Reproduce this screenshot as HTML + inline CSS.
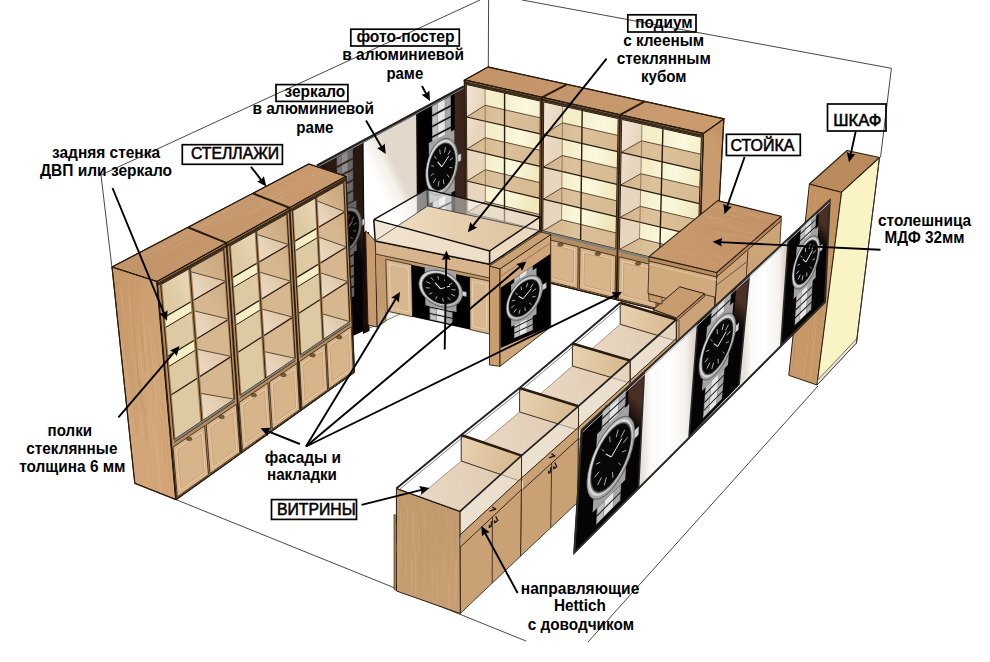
<!DOCTYPE html>
<html><head><meta charset="utf-8"><title>plan</title>
<style>
html,body{margin:0;padding:0;background:#fff;}
svg{display:block}
text{font-family:"Liberation Sans",sans-serif;fill:#000}
.b{font-weight:bold;font-size:16px}
.c{font-size:16px;stroke:#000;stroke-width:0.55px}
</style></head><body>
<svg width="990" height="662" viewBox="0 0 990 662">
<defs><linearGradient id="g0" gradientUnits="userSpaceOnUse" x1="318.0" y1="258.5" x2="362.9" y2="236.1"><stop offset="0" stop-color="#000"/><stop offset="0.72" stop-color="#080404"/><stop offset="1" stop-color="#3d261b"/></linearGradient><linearGradient id="g1" gradientUnits="userSpaceOnUse" x1="364.5" y1="235.3" x2="416.9" y2="209.1"><stop offset="0" stop-color="#f2eee8"/><stop offset="0.2" stop-color="#ffffff"/><stop offset="0.6" stop-color="#ffffff"/><stop offset="0.85" stop-color="#f4efe8"/><stop offset="1" stop-color="#e2d8cb"/></linearGradient><linearGradient id="g2" gradientUnits="userSpaceOnUse" x1="112.0" y1="267.0" x2="346.0" y2="176.3"><stop offset="0" stop-color="#c3946a"/><stop offset="1" stop-color="#c99b6f"/></linearGradient><linearGradient id="g3" gradientUnits="userSpaceOnUse" x1="112.0" y1="300.0" x2="176.0" y2="320.0"><stop offset="0" stop-color="#c79869"/><stop offset="1" stop-color="#d2a679"/></linearGradient><linearGradient id="g4" gradientUnits="userSpaceOnUse" x1="160.7" y1="284.7" x2="189.8" y2="268.4"><stop offset="0" stop-color="#ddc9a2"/><stop offset="1" stop-color="#ead9b8"/></linearGradient><linearGradient id="g5" gradientUnits="userSpaceOnUse" x1="189.8" y1="268.4" x2="223.8" y2="249.4"><stop offset="0" stop-color="#d6b78f"/><stop offset="1" stop-color="#c9a67c"/></linearGradient><linearGradient id="g6" gradientUnits="userSpaceOnUse" x1="192.4" y1="301.0" x2="226.0" y2="281.3"><stop offset="0" stop-color="#ecdcc4"/><stop offset="1" stop-color="#dcc2a2"/></linearGradient><linearGradient id="g7" gradientUnits="userSpaceOnUse" x1="195.4" y1="339.6" x2="228.7" y2="319.2"><stop offset="0" stop-color="#ecdcc4"/><stop offset="1" stop-color="#dcc2a2"/></linearGradient><linearGradient id="g8" gradientUnits="userSpaceOnUse" x1="198.4" y1="377.5" x2="231.4" y2="356.4"><stop offset="0" stop-color="#ecdcc4"/><stop offset="1" stop-color="#dcc2a2"/></linearGradient><linearGradient id="g9" gradientUnits="userSpaceOnUse" x1="201.9" y1="421.0" x2="234.4" y2="399.2"><stop offset="0" stop-color="#ecdcc4"/><stop offset="1" stop-color="#dcc2a2"/></linearGradient><linearGradient id="g10" gradientUnits="userSpaceOnUse" x1="229.7" y1="246.1" x2="256.1" y2="231.3"><stop offset="0" stop-color="#ddc9a2"/><stop offset="1" stop-color="#ead9b8"/></linearGradient><linearGradient id="g11" gradientUnits="userSpaceOnUse" x1="256.1" y1="231.3" x2="287.0" y2="213.9"><stop offset="0" stop-color="#d6b78f"/><stop offset="1" stop-color="#c9a67c"/></linearGradient><linearGradient id="g12" gradientUnits="userSpaceOnUse" x1="258.1" y1="262.6" x2="288.8" y2="244.7"><stop offset="0" stop-color="#ecdcc4"/><stop offset="1" stop-color="#dcc2a2"/></linearGradient><linearGradient id="g13" gradientUnits="userSpaceOnUse" x1="260.5" y1="299.8" x2="290.8" y2="281.2"><stop offset="0" stop-color="#ecdcc4"/><stop offset="1" stop-color="#dcc2a2"/></linearGradient><linearGradient id="g14" gradientUnits="userSpaceOnUse" x1="262.8" y1="336.3" x2="292.9" y2="317.1"><stop offset="0" stop-color="#ecdcc4"/><stop offset="1" stop-color="#dcc2a2"/></linearGradient><linearGradient id="g15" gradientUnits="userSpaceOnUse" x1="265.5" y1="378.3" x2="295.2" y2="358.3"><stop offset="0" stop-color="#ecdcc4"/><stop offset="1" stop-color="#dcc2a2"/></linearGradient><linearGradient id="g16" gradientUnits="userSpaceOnUse" x1="292.4" y1="210.9" x2="316.0" y2="197.7"><stop offset="0" stop-color="#ddc9a2"/><stop offset="1" stop-color="#ead9b8"/></linearGradient><linearGradient id="g17" gradientUnits="userSpaceOnUse" x1="316.0" y1="197.7" x2="343.8" y2="182.2"><stop offset="0" stop-color="#d6b78f"/><stop offset="1" stop-color="#c9a67c"/></linearGradient><linearGradient id="g18" gradientUnits="userSpaceOnUse" x1="317.5" y1="227.9" x2="345.0" y2="211.8"><stop offset="0" stop-color="#ecdcc4"/><stop offset="1" stop-color="#dcc2a2"/></linearGradient><linearGradient id="g19" gradientUnits="userSpaceOnUse" x1="319.3" y1="263.7" x2="346.6" y2="247.0"><stop offset="0" stop-color="#ecdcc4"/><stop offset="1" stop-color="#dcc2a2"/></linearGradient><linearGradient id="g20" gradientUnits="userSpaceOnUse" x1="321.1" y1="299.0" x2="348.1" y2="281.7"><stop offset="0" stop-color="#ecdcc4"/><stop offset="1" stop-color="#dcc2a2"/></linearGradient><linearGradient id="g21" gradientUnits="userSpaceOnUse" x1="323.1" y1="339.6" x2="349.8" y2="321.6"><stop offset="0" stop-color="#ecdcc4"/><stop offset="1" stop-color="#dcc2a2"/></linearGradient><linearGradient id="g22" gradientUnits="userSpaceOnUse" x1="488.0" y1="67.0" x2="703.4" y2="133.5"><stop offset="0" stop-color="#c3946a"/><stop offset="1" stop-color="#c99b6f"/></linearGradient><linearGradient id="g23" gradientUnits="userSpaceOnUse" x1="703.4" y1="133.5" x2="723.9" y2="118.8"><stop offset="0" stop-color="#c99b6e"/><stop offset="1" stop-color="#c08f62"/></linearGradient><linearGradient id="g24" gradientUnits="userSpaceOnUse" x1="466.3" y1="84.5" x2="485.1" y2="88.7"><stop offset="0" stop-color="#f3e7d8"/><stop offset="1" stop-color="#e8d5bd"/></linearGradient><linearGradient id="g25" gradientUnits="userSpaceOnUse" x1="485.3" y1="158.8" x2="539.8" y2="171.6"><stop offset="0" stop-color="#f4edc8"/><stop offset="0.5" stop-color="#fbf8de"/><stop offset="1" stop-color="#f0e7ba"/></linearGradient><linearGradient id="g26" gradientUnits="userSpaceOnUse" x1="466.5" y1="117.0" x2="540.1" y2="133.9"><stop offset="0" stop-color="#d2b48c"/><stop offset="0.4" stop-color="#dcc29a"/><stop offset="1" stop-color="#d6b990"/></linearGradient><linearGradient id="g27" gradientUnits="userSpaceOnUse" x1="466.7" y1="149.1" x2="539.9" y2="166.3"><stop offset="0" stop-color="#d2b48c"/><stop offset="0.4" stop-color="#dcc29a"/><stop offset="1" stop-color="#d6b990"/></linearGradient><linearGradient id="g28" gradientUnits="userSpaceOnUse" x1="466.9" y1="181.0" x2="539.7" y2="198.3"><stop offset="0" stop-color="#d2b48c"/><stop offset="0.4" stop-color="#dcc29a"/><stop offset="1" stop-color="#d6b990"/></linearGradient><linearGradient id="g29" gradientUnits="userSpaceOnUse" x1="467.0" y1="212.5" x2="539.5" y2="230.1"><stop offset="0" stop-color="#d2b48c"/><stop offset="0.4" stop-color="#dcc29a"/><stop offset="1" stop-color="#d6b990"/></linearGradient><linearGradient id="g30" gradientUnits="userSpaceOnUse" x1="543.7" y1="101.9" x2="562.6" y2="106.1"><stop offset="0" stop-color="#f3e7d8"/><stop offset="1" stop-color="#e8d5bd"/></linearGradient><linearGradient id="g31" gradientUnits="userSpaceOnUse" x1="562.0" y1="176.8" x2="616.9" y2="189.7"><stop offset="0" stop-color="#f4edc8"/><stop offset="0.5" stop-color="#fbf8de"/><stop offset="1" stop-color="#f0e7ba"/></linearGradient><linearGradient id="g32" gradientUnits="userSpaceOnUse" x1="543.5" y1="134.6" x2="617.6" y2="151.6"><stop offset="0" stop-color="#d2b48c"/><stop offset="0.4" stop-color="#dcc29a"/><stop offset="1" stop-color="#d6b990"/></linearGradient><linearGradient id="g33" gradientUnits="userSpaceOnUse" x1="543.3" y1="167.1" x2="617.0" y2="184.3"><stop offset="0" stop-color="#d2b48c"/><stop offset="0.4" stop-color="#dcc29a"/><stop offset="1" stop-color="#d6b990"/></linearGradient><linearGradient id="g34" gradientUnits="userSpaceOnUse" x1="543.1" y1="199.2" x2="616.4" y2="216.6"><stop offset="0" stop-color="#d2b48c"/><stop offset="0.4" stop-color="#dcc29a"/><stop offset="1" stop-color="#d6b990"/></linearGradient><linearGradient id="g35" gradientUnits="userSpaceOnUse" x1="542.8" y1="230.9" x2="615.8" y2="248.7"><stop offset="0" stop-color="#d2b48c"/><stop offset="0.4" stop-color="#dcc29a"/><stop offset="1" stop-color="#d6b990"/></linearGradient><linearGradient id="g36" gradientUnits="userSpaceOnUse" x1="621.7" y1="119.4" x2="642.0" y2="124.0"><stop offset="0" stop-color="#f3e7d8"/><stop offset="1" stop-color="#e8d5bd"/></linearGradient><linearGradient id="g37" gradientUnits="userSpaceOnUse" x1="640.4" y1="195.2" x2="699.2" y2="209.0"><stop offset="0" stop-color="#f4edc8"/><stop offset="0.5" stop-color="#fbf8de"/><stop offset="1" stop-color="#f0e7ba"/></linearGradient><linearGradient id="g38" gradientUnits="userSpaceOnUse" x1="621.1" y1="152.4" x2="700.4" y2="170.6"><stop offset="0" stop-color="#d2b48c"/><stop offset="0.4" stop-color="#dcc29a"/><stop offset="1" stop-color="#d6b990"/></linearGradient><linearGradient id="g39" gradientUnits="userSpaceOnUse" x1="620.5" y1="185.1" x2="699.3" y2="203.6"><stop offset="0" stop-color="#d2b48c"/><stop offset="0.4" stop-color="#dcc29a"/><stop offset="1" stop-color="#d6b990"/></linearGradient><linearGradient id="g40" gradientUnits="userSpaceOnUse" x1="619.9" y1="217.5" x2="698.3" y2="236.2"><stop offset="0" stop-color="#d2b48c"/><stop offset="0.4" stop-color="#dcc29a"/><stop offset="1" stop-color="#d6b990"/></linearGradient><linearGradient id="g41" gradientUnits="userSpaceOnUse" x1="619.3" y1="249.5" x2="697.3" y2="268.5"><stop offset="0" stop-color="#d2b48c"/><stop offset="0.4" stop-color="#dcc29a"/><stop offset="1" stop-color="#d6b990"/></linearGradient><linearGradient id="g42" gradientUnits="userSpaceOnUse" x1="649.0" y1="256.6" x2="781.2" y2="216.4"><stop offset="0" stop-color="#c79a6e"/><stop offset="1" stop-color="#c39367"/></linearGradient><linearGradient id="g43" gradientUnits="userSpaceOnUse" x1="809.4" y1="184.0" x2="817.0" y2="385.0"><stop offset="0" stop-color="#c2915f"/><stop offset="1" stop-color="#c89a6a"/></linearGradient><linearGradient id="g44" gradientUnits="userSpaceOnUse" x1="375.2" y1="240.9" x2="539.8" y2="230.7"><stop offset="0" stop-color="#efe0c8"/><stop offset="0.5" stop-color="#e6cfae"/><stop offset="1" stop-color="#dcc09a"/></linearGradient><linearGradient id="g45" gradientUnits="userSpaceOnUse" x1="572.4" y1="343.5" x2="572.4" y2="366.0"><stop offset="0" stop-color="#ffffff"/><stop offset="1" stop-color="#f1ebe0"/></linearGradient><linearGradient id="g46" gradientUnits="userSpaceOnUse" x1="572.4" y1="366.0" x2="676.3" y2="341.0"><stop offset="0" stop-color="#ecdccb"/><stop offset="1" stop-color="#dfc9ae"/></linearGradient><linearGradient id="g47" gradientUnits="userSpaceOnUse" x1="620.2" y1="302.8" x2="676.3" y2="319.5"><stop offset="0" stop-color="#e8d3b2"/><stop offset="1" stop-color="#d6b88f"/></linearGradient><linearGradient id="g48" gradientUnits="userSpaceOnUse" x1="519.6" y1="388.0" x2="519.6" y2="412.0"><stop offset="0" stop-color="#ffffff"/><stop offset="1" stop-color="#f1ebe0"/></linearGradient><linearGradient id="g49" gradientUnits="userSpaceOnUse" x1="519.6" y1="412.0" x2="630.0" y2="383.0"><stop offset="0" stop-color="#ecdccb"/><stop offset="1" stop-color="#dfc9ae"/></linearGradient><linearGradient id="g50" gradientUnits="userSpaceOnUse" x1="572.4" y1="343.5" x2="630.0" y2="360.5"><stop offset="0" stop-color="#e8d3b2"/><stop offset="1" stop-color="#d6b88f"/></linearGradient><linearGradient id="g51" gradientUnits="userSpaceOnUse" x1="461.2" y1="435.0" x2="461.2" y2="461.0"><stop offset="0" stop-color="#ffffff"/><stop offset="1" stop-color="#f1ebe0"/></linearGradient><linearGradient id="g52" gradientUnits="userSpaceOnUse" x1="461.2" y1="461.0" x2="578.5" y2="430.2"><stop offset="0" stop-color="#ecdccb"/><stop offset="1" stop-color="#dfc9ae"/></linearGradient><linearGradient id="g53" gradientUnits="userSpaceOnUse" x1="519.6" y1="388.0" x2="578.5" y2="406.2"><stop offset="0" stop-color="#e8d3b2"/><stop offset="1" stop-color="#d6b88f"/></linearGradient><linearGradient id="g54" gradientUnits="userSpaceOnUse" x1="396.4" y1="488.5" x2="396.4" y2="515.5"><stop offset="0" stop-color="#ffffff"/><stop offset="1" stop-color="#f1ebe0"/></linearGradient><linearGradient id="g55" gradientUnits="userSpaceOnUse" x1="396.4" y1="515.5" x2="521.5" y2="481.6"><stop offset="0" stop-color="#ecdccb"/><stop offset="1" stop-color="#dfc9ae"/></linearGradient><linearGradient id="g56" gradientUnits="userSpaceOnUse" x1="461.2" y1="435.0" x2="521.5" y2="455.6"><stop offset="0" stop-color="#e8d3b2"/><stop offset="1" stop-color="#d6b88f"/></linearGradient><linearGradient id="g57" gradientUnits="userSpaceOnUse" x1="396.4" y1="488.5" x2="460.3" y2="613.5"><stop offset="0" stop-color="#c39a6d"/><stop offset="1" stop-color="#c79f73"/></linearGradient><linearGradient id="g58" gradientUnits="userSpaceOnUse" x1="626.8" y1="421.0" x2="642.6" y2="406.0"><stop offset="0" stop-color="#050303"/><stop offset="1" stop-color="#4a3024"/></linearGradient><linearGradient id="g59" gradientUnits="userSpaceOnUse" x1="641.5" y1="300.0" x2="693.4" y2="300.0"><stop offset="0" stop-color="#e6e0d8"/><stop offset="0.18" stop-color="#fbfaf8"/><stop offset="0.5" stop-color="#ffffff"/><stop offset="0.85" stop-color="#f6f3ee"/><stop offset="1" stop-color="#ddd5ca"/></linearGradient><linearGradient id="g60" gradientUnits="userSpaceOnUse" x1="733.4" y1="321.1" x2="746.1" y2="308.8"><stop offset="0" stop-color="#050303"/><stop offset="1" stop-color="#4a3024"/></linearGradient><linearGradient id="g61" gradientUnits="userSpaceOnUse" x1="744.1" y1="300.0" x2="784.6" y2="300.0"><stop offset="0" stop-color="#e6e0d8"/><stop offset="0.18" stop-color="#fbfaf8"/><stop offset="0.5" stop-color="#ffffff"/><stop offset="0.85" stop-color="#f6f3ee"/><stop offset="1" stop-color="#ddd5ca"/></linearGradient><linearGradient id="g62" gradientUnits="userSpaceOnUse" x1="817.5" y1="239.7" x2="828.3" y2="229.6"><stop offset="0" stop-color="#050303"/><stop offset="1" stop-color="#4a3024"/></linearGradient><marker id="ah" viewBox="0 0 12 10" refX="11" refY="5" markerWidth="13" markerHeight="11" markerUnits="userSpaceOnUse" orient="auto"><path d="M0,0 L12,5 L0,10 L3,5 z" fill="#000"/></marker></defs>
<line x1="101.0" y1="175.0" x2="480.0" y2="0.0" stroke="#333" stroke-width="0.9" />
<line x1="101.0" y1="175.0" x2="112.0" y2="268.0" stroke="#333" stroke-width="0.9" />
<line x1="488.6" y1="0.0" x2="488.3" y2="67.0" stroke="#333" stroke-width="0.9" />
<line x1="522.0" y1="0.0" x2="891.4" y2="68.3" stroke="#333" stroke-width="0.9" />
<line x1="891.4" y1="68.3" x2="880.5" y2="157.5" stroke="#333" stroke-width="0.9" />
<line x1="176.0" y1="499.6" x2="526.0" y2="641.0" stroke="#333" stroke-width="0.9" />
<line x1="588.0" y1="642.0" x2="818.0" y2="386.0" stroke="#333" stroke-width="0.9" />
<polygon points="317.0,165.5 463.6,86.4 465.0,284.0 319.0,351.0" fill="#120b08" stroke="#2a1d10" stroke-width="1" stroke-linejoin="round" />
<polygon points="317.0,165.5 362.0,141.2 363.8,330.4 319.0,351.0" fill="url(#g0)" />
<polygon points="363.6,142.7 416.1,114.4 417.7,305.7 365.4,329.7" fill="url(#g1)" />
<polygon points="418.2,113.3 454.5,93.7 455.9,288.2 419.7,304.8" fill="#000" />
<polygon points="454.5,93.7 463.6,88.8 465.0,284.0 455.9,288.2" fill="#3b251b" />
<polygon points="431.8,105.9 450.8,95.7 450.8,105.1 431.9,115.3" fill="#8a8a8a" />
<polygon points="432.6,106.6 437.3,104.0 437.4,111.5 432.7,114.0" fill="#c2c2c2" />
<polygon points="437.9,103.2 444.7,99.5 444.7,107.5 437.9,111.2" fill="#e6e6e6" />
<polygon points="445.3,99.7 450.0,97.2 450.1,104.7 445.3,107.2" fill="#a8a8a8" />
<polygon points="431.9,116.5 450.9,106.4 450.9,115.9 432.0,125.9" fill="#8a8a8a" />
<polygon points="432.7,117.2 437.4,114.7 437.4,122.2 432.7,124.7" fill="#c2c2c2" />
<polygon points="437.9,113.9 444.8,110.2 444.8,118.2 438.0,121.9" fill="#e6e6e6" />
<polygon points="445.3,110.4 450.1,107.9 450.2,115.4 445.4,117.9" fill="#a8a8a8" />
<polygon points="432.0,127.2 450.9,117.2 451.0,126.6 432.1,136.5" fill="#8a8a8a" />
<polygon points="432.8,127.8 437.5,125.4 437.5,132.8 432.8,135.3" fill="#c2c2c2" />
<polygon points="438.0,124.5 444.8,120.9 444.9,128.9 438.1,132.5" fill="#e6e6e6" />
<polygon points="445.4,121.1 450.2,118.6 450.2,126.1 445.5,128.6" fill="#a8a8a8" />
<polygon points="432.1,137.8 451.0,127.9 451.1,137.3 432.2,147.2" fill="#8a8a8a" />
<polygon points="432.8,138.5 437.6,136.0 437.6,143.5 432.9,145.9" fill="#c2c2c2" />
<polygon points="438.1,135.2 444.9,131.6 445.0,139.6 438.2,143.2" fill="#e6e6e6" />
<polygon points="445.5,131.8 450.3,129.3 450.3,136.8 445.6,139.3" fill="#a8a8a8" />
<polygon points="432.5,190.9 451.4,181.4 451.5,190.8 432.6,200.2" fill="#8a8a8a" />
<polygon points="433.3,191.6 438.0,189.2 438.0,196.6 433.3,199.0" fill="#c2c2c2" />
<polygon points="438.5,188.4 445.3,185.0 445.4,193.0 438.6,196.4" fill="#e6e6e6" />
<polygon points="445.9,185.2 450.7,182.8 450.7,190.3 446.0,192.7" fill="#a8a8a8" />
<polygon points="432.6,201.5 451.5,192.0 451.6,201.4 432.7,210.8" fill="#8a8a8a" />
<polygon points="433.3,202.2 438.0,199.8 438.1,207.3 433.4,209.6" fill="#c2c2c2" />
<polygon points="438.6,199.0 445.4,195.6 445.5,203.6 438.7,207.0" fill="#e6e6e6" />
<polygon points="446.0,195.9 450.7,193.5 450.8,201.0 446.0,203.3" fill="#a8a8a8" />
<polygon points="432.7,212.1 451.6,202.7 451.6,212.1 432.7,221.4" fill="#8a8a8a" />
<polygon points="433.4,212.8 438.1,210.4 438.2,217.9 433.5,220.2" fill="#c2c2c2" />
<polygon points="438.7,209.6 445.5,206.3 445.6,214.2 438.8,217.6" fill="#e6e6e6" />
<polygon points="446.1,206.5 450.8,204.2 450.9,211.6 446.1,214.0" fill="#a8a8a8" />
<polygon points="432.8,222.7 451.6,213.4 451.7,222.8 432.8,232.0" fill="#8a8a8a" />
<polygon points="433.5,223.4 438.2,221.0 438.3,228.5 433.6,230.8" fill="#c2c2c2" />
<polygon points="438.8,220.2 445.6,216.9 445.6,224.9 438.8,228.2" fill="#e6e6e6" />
<polygon points="446.1,217.2 450.9,214.8 451.0,222.3 446.2,224.6" fill="#a8a8a8" />
<polygon points="428.8,143.0 454.4,129.7 454.8,190.7 429.3,203.5" fill="#a2a2a2" />
<polygon points="458.3,158.4 458.0,163.8 457.1,169.4 455.6,174.9 453.5,180.1 451.1,184.7 448.2,188.7 445.2,191.8 442.0,193.9 438.8,195.0 435.7,195.0 432.9,193.9 430.4,191.7 428.4,188.7 426.8,184.8 425.9,180.2 425.5,175.1 425.8,169.7 426.7,164.2 428.1,158.7 430.1,153.6 432.5,148.9 435.3,145.0 438.4,141.8 441.6,139.6 444.8,138.5 447.9,138.4 450.7,139.5 453.3,141.6 455.3,144.6 456.9,148.6 457.9,153.2" fill="#a4a4a4" stroke="#333" stroke-width="0.6" stroke-linejoin="round" />
<polygon points="456.7,158.5 456.4,163.6 455.6,168.8 454.2,173.9 452.3,178.7 450.0,183.0 447.4,186.7 444.5,189.5 441.6,191.5 438.6,192.5 435.7,192.5 433.1,191.5 430.8,189.5 428.9,186.7 427.5,183.1 426.6,178.8 426.2,174.1 426.5,169.0 427.3,163.9 428.7,158.8 430.5,154.0 432.8,149.7 435.4,146.0 438.2,143.1 441.2,141.1 444.1,140.0 447.0,140.0 449.7,140.9 452.0,142.9 454.0,145.7 455.4,149.4 456.3,153.7" fill="#d6d6d6" />
<polygon points="455.9,159.5 455.7,164.3 454.9,169.1 453.6,173.8 451.9,178.2 449.8,182.2 447.3,185.6 444.7,188.3 442.0,190.1 439.2,191.0 436.6,191.0 434.1,190.1 432.0,188.3 430.2,185.6 428.9,182.3 428.1,178.3 427.8,173.9 428.0,169.3 428.8,164.5 430.0,159.8 431.7,155.4 433.8,151.4 436.2,148.0 438.9,145.3 441.6,143.5 444.3,142.5 447.0,142.4 449.5,143.3 451.6,145.1 453.4,147.7 454.8,151.1 455.6,155.1" fill="#5c5c5c" />
<polygon points="455.3,159.9 455.0,164.4 454.3,169.0 453.1,173.5 451.4,177.7 449.4,181.5 447.1,184.7 444.6,187.3 441.9,189.0 439.3,189.9 436.8,189.9 434.5,189.0 432.4,187.3 430.8,184.8 429.5,181.6 428.7,177.8 428.4,173.6 428.6,169.2 429.4,164.6 430.6,160.2 432.2,156.0 434.2,152.1 436.5,148.9 439.0,146.3 441.6,144.5 444.2,143.6 446.8,143.6 449.1,144.4 451.2,146.1 452.9,148.6 454.2,151.9 455.0,155.7" fill="#080808" />
<line x1="452.5" y1="167.8" x2="449.5" y2="167.5" stroke="#cfcfcf" stroke-width="0.8" />
<line x1="449.2" y1="177.4" x2="447.1" y2="174.5" stroke="#cfcfcf" stroke-width="0.8" />
<line x1="443.9" y1="184.2" x2="443.3" y2="179.4" stroke="#cfcfcf" stroke-width="0.8" />
<line x1="438.0" y1="186.3" x2="439.1" y2="180.9" stroke="#cfcfcf" stroke-width="0.8" />
<line x1="433.2" y1="183.2" x2="435.6" y2="178.7" stroke="#cfcfcf" stroke-width="0.8" />
<line x1="430.7" y1="175.7" x2="433.8" y2="173.2" stroke="#cfcfcf" stroke-width="0.8" />
<line x1="431.2" y1="165.8" x2="434.1" y2="166.1" stroke="#cfcfcf" stroke-width="0.8" />
<line x1="434.4" y1="156.2" x2="436.4" y2="159.1" stroke="#cfcfcf" stroke-width="0.8" />
<line x1="439.7" y1="149.4" x2="440.3" y2="154.2" stroke="#cfcfcf" stroke-width="0.8" />
<line x1="445.5" y1="147.2" x2="444.5" y2="152.6" stroke="#cfcfcf" stroke-width="0.8" />
<line x1="450.4" y1="150.3" x2="448.0" y2="154.8" stroke="#cfcfcf" stroke-width="0.8" />
<line x1="452.9" y1="157.8" x2="449.8" y2="160.3" stroke="#cfcfcf" stroke-width="0.8" />
<line x1="441.8" y1="166.8" x2="448.7" y2="156.1" stroke="#e6e6e6" stroke-width="1" />
<line x1="441.8" y1="166.8" x2="437.7" y2="161.8" stroke="#e6e6e6" stroke-width="1.1" />
<polygon points="457.7,155.1 461.1,153.4 461.1,160.5 457.8,162.2" fill="#d2d2d2" stroke="#444" stroke-width="0.4" stroke-linejoin="round" />
<polygon points="336.6,157.2 352.9,148.4 353.0,157.8 336.7,166.5" fill="#8a8a8a" />
<polygon points="337.3,157.9 341.3,155.7 341.4,163.2 337.3,165.3" fill="#c2c2c2" />
<polygon points="341.8,154.9 347.6,151.8 347.7,159.8 341.9,162.9" fill="#e6e6e6" />
<polygon points="348.1,152.1 352.2,149.9 352.3,157.3 348.2,159.5" fill="#a8a8a8" />
<polygon points="336.7,167.8 353.0,159.1 353.1,168.5 336.8,177.1" fill="#8a8a8a" />
<polygon points="337.4,168.5 341.4,166.4 341.5,173.8 337.4,175.9" fill="#c2c2c2" />
<polygon points="341.9,165.6 347.7,162.4 347.8,170.4 342.0,173.5" fill="#e6e6e6" />
<polygon points="348.2,162.7 352.3,160.5 352.4,168.0 348.3,170.2" fill="#a8a8a8" />
<polygon points="336.8,178.4 353.1,169.8 353.2,179.2 336.9,187.7" fill="#8a8a8a" />
<polygon points="337.5,179.1 341.5,177.0 341.6,184.4 337.5,186.5" fill="#c2c2c2" />
<polygon points="342.0,176.2 347.9,173.1 347.9,181.1 342.1,184.2" fill="#e6e6e6" />
<polygon points="348.3,173.4 352.4,171.2 352.5,178.7 348.4,180.8" fill="#a8a8a8" />
<polygon points="336.9,189.0 353.2,180.5 353.3,189.9 337.0,198.3" fill="#8a8a8a" />
<polygon points="337.6,189.7 341.6,187.6 341.7,195.0 337.7,197.1" fill="#c2c2c2" />
<polygon points="342.1,186.8 348.0,183.8 348.0,191.7 342.2,194.8" fill="#e6e6e6" />
<polygon points="348.5,184.0 352.5,181.9 352.6,189.4 348.5,191.5" fill="#a8a8a8" />
<polygon points="337.0,199.6 353.3,191.1 353.4,200.5 337.1,208.9" fill="#8a8a8a" />
<polygon points="337.7,200.3 341.7,198.2 341.8,205.6 337.8,207.7" fill="#c2c2c2" />
<polygon points="342.2,197.4 348.1,194.4 348.1,202.4 342.3,205.4" fill="#e6e6e6" />
<polygon points="348.6,194.7 352.6,192.6 352.7,200.0 348.6,202.1" fill="#a8a8a8" />
<polygon points="337.1,210.2 353.4,201.8 353.5,211.2 337.2,219.5" fill="#8a8a8a" />
<polygon points="337.8,210.9 341.8,208.8 341.9,216.3 337.9,218.3" fill="#c2c2c2" />
<polygon points="342.3,208.0 348.2,205.0 348.3,213.0 342.4,216.0" fill="#e6e6e6" />
<polygon points="348.7,205.3 352.7,203.2 352.8,210.7 348.7,212.8" fill="#a8a8a8" />
<polygon points="337.6,252.5 353.8,244.4 353.9,253.8 337.7,261.8" fill="#8a8a8a" />
<polygon points="338.2,253.2 342.3,251.2 342.3,258.6 338.3,260.6" fill="#c2c2c2" />
<polygon points="342.8,250.4 348.6,247.5 348.7,255.5 342.8,258.4" fill="#e6e6e6" />
<polygon points="349.1,247.8 353.2,245.8 353.2,253.2 349.2,255.2" fill="#a8a8a8" />
<polygon points="337.7,263.0 353.9,255.0 354.0,264.4 337.8,272.3" fill="#8a8a8a" />
<polygon points="338.3,263.8 342.4,261.8 342.5,269.2 338.4,271.2" fill="#c2c2c2" />
<polygon points="342.9,261.0 348.7,258.1 348.8,266.1 342.9,269.0" fill="#e6e6e6" />
<polygon points="349.2,258.4 353.3,256.4 353.3,263.9 349.3,265.9" fill="#a8a8a8" />
<polygon points="337.8,273.6 354.0,265.7 354.1,275.0 337.9,282.9" fill="#8a8a8a" />
<polygon points="338.5,274.3 342.5,272.4 342.6,279.8 338.5,281.7" fill="#c2c2c2" />
<polygon points="343.0,271.6 348.8,268.7 348.9,276.7 343.0,279.5" fill="#e6e6e6" />
<polygon points="349.3,269.0 353.4,267.0 353.4,274.5 349.4,276.5" fill="#a8a8a8" />
<polygon points="337.9,284.1 354.1,276.3 354.2,285.6 338.0,293.4" fill="#8a8a8a" />
<polygon points="338.6,284.9 342.6,282.9 342.7,290.3 338.6,292.3" fill="#c2c2c2" />
<polygon points="343.1,282.2 348.9,279.3 349.0,287.3 343.2,290.1" fill="#e6e6e6" />
<polygon points="349.4,279.6 353.5,277.7 353.6,285.1 349.5,287.1" fill="#a8a8a8" />
<polygon points="338.0,294.7 354.2,286.9 354.3,296.2 338.1,304.0" fill="#8a8a8a" />
<polygon points="338.7,295.4 342.7,293.5 342.8,300.9 338.7,302.8" fill="#c2c2c2" />
<polygon points="343.2,292.7 349.0,289.9 349.1,297.9 343.3,300.7" fill="#e6e6e6" />
<polygon points="349.5,290.2 353.6,288.3 353.7,295.7 349.6,297.6" fill="#a8a8a8" />
<polygon points="334.3,211.6 356.3,200.3 356.7,250.5 334.8,261.3" fill="#a2a2a2" />
<polygon points="361.8,222.7 361.6,227.2 360.7,231.9 359.2,236.5 357.2,241.0 354.7,245.0 351.9,248.4 348.9,251.2 345.7,253.2 342.5,254.4 339.5,254.6 336.7,253.9 334.2,252.4 332.2,250.0 330.7,247.0 329.7,243.3 329.4,239.1 329.6,234.6 330.5,230.0 331.9,225.4 333.9,221.0 336.3,217.0 339.1,213.6 342.1,210.7 345.3,208.7 348.4,207.5 351.5,207.2 354.4,207.8 356.9,209.3 358.9,211.6 360.5,214.7 361.5,218.5" fill="#a4a4a4" stroke="#333" stroke-width="0.6" stroke-linejoin="round" />
<polygon points="360.3,222.9 360.0,227.1 359.2,231.5 357.8,235.8 355.9,239.9 353.7,243.6 351.1,246.9 348.2,249.5 345.3,251.3 342.3,252.4 339.5,252.6 336.9,252.0 334.6,250.5 332.7,248.4 331.3,245.5 330.4,242.1 330.1,238.2 330.3,234.0 331.1,229.7 332.5,225.5 334.3,221.4 336.5,217.7 339.1,214.4 341.9,211.8 344.9,209.9 347.8,208.8 350.7,208.5 353.3,209.1 355.7,210.5 357.6,212.7 359.0,215.5 359.9,219.0" fill="#d6d6d6" />
<polygon points="359.5,223.9 359.3,227.8 358.5,231.8 357.3,235.8 355.5,239.6 353.4,243.0 351.0,246.0 348.4,248.4 345.7,250.1 343.0,251.1 340.3,251.3 337.9,250.7 335.8,249.4 334.0,247.4 332.7,244.7 331.9,241.5 331.6,238.0 331.8,234.1 332.6,230.1 333.8,226.2 335.5,222.4 337.6,219.0 340.0,216.0 342.6,213.6 345.3,211.8 348.0,210.8 350.7,210.5 353.1,211.0 355.3,212.3 357.1,214.4 358.4,217.0 359.2,220.2" fill="#5c5c5c" />
<polygon points="358.9,224.2 358.7,227.9 357.9,231.7 356.7,235.5 355.1,239.2 353.1,242.4 350.8,245.3 348.3,247.6 345.7,249.2 343.1,250.2 340.6,250.4 338.3,249.8 336.2,248.6 334.6,246.6 333.3,244.1 332.5,241.1 332.3,237.6 332.5,234.0 333.2,230.2 334.4,226.4 336.0,222.8 338.0,219.5 340.2,216.7 342.7,214.4 345.3,212.7 347.9,211.7 350.4,211.5 352.8,212.0 354.8,213.2 356.5,215.1 357.8,217.7 358.6,220.7" fill="#080808" />
<line x1="356.1" y1="230.9" x2="353.2" y2="230.9" stroke="#cfcfcf" stroke-width="0.8" />
<line x1="352.8" y1="239.1" x2="350.8" y2="236.9" stroke="#cfcfcf" stroke-width="0.8" />
<line x1="347.6" y1="245.1" x2="347.0" y2="241.2" stroke="#cfcfcf" stroke-width="0.8" />
<line x1="341.8" y1="247.3" x2="342.8" y2="242.8" stroke="#cfcfcf" stroke-width="0.8" />
<line x1="337.0" y1="245.1" x2="339.4" y2="241.2" stroke="#cfcfcf" stroke-width="0.8" />
<line x1="334.5" y1="239.1" x2="337.5" y2="236.9" stroke="#cfcfcf" stroke-width="0.8" />
<line x1="335.0" y1="231.0" x2="337.8" y2="231.0" stroke="#cfcfcf" stroke-width="0.8" />
<line x1="338.2" y1="222.8" x2="340.2" y2="225.1" stroke="#cfcfcf" stroke-width="0.8" />
<line x1="343.4" y1="216.8" x2="344.0" y2="220.7" stroke="#cfcfcf" stroke-width="0.8" />
<line x1="349.2" y1="214.5" x2="348.2" y2="219.1" stroke="#cfcfcf" stroke-width="0.8" />
<line x1="354.0" y1="216.7" x2="351.7" y2="220.6" stroke="#cfcfcf" stroke-width="0.8" />
<line x1="356.5" y1="222.7" x2="353.5" y2="225.0" stroke="#cfcfcf" stroke-width="0.8" />
<line x1="345.5" y1="231.0" x2="352.4" y2="221.6" stroke="#e6e6e6" stroke-width="1" />
<line x1="345.5" y1="231.0" x2="341.4" y2="227.2" stroke="#e6e6e6" stroke-width="1.1" />
<polygon points="361.3,220.0 364.6,218.4 364.7,224.2 361.4,225.9" fill="#d2d2d2" stroke="#444" stroke-width="0.4" stroke-linejoin="round" />
<polygon points="317.0,167.7 362.0,143.5 363.8,330.4 319.0,351.0" fill="#0a0504" opacity="0.4"/>
<line x1="317.0" y1="165.5" x2="463.6" y2="86.4" stroke="#222" stroke-width="2.2" />
<line x1="317.0" y1="167.3" x2="463.6" y2="88.2" stroke="#aaa" stroke-width="0.8" />
<polygon points="112.0,267.0 308.8,164.0 346.0,176.3 157.0,281.5" fill="url(#g2)" stroke="#2a1d10" stroke-width="1" stroke-linejoin="round" />
<polygon points="112.0,267.0 157.0,281.5 176.0,499.6 134.8,483.3" fill="url(#g3)" stroke="#2a1d10" stroke-width="1" stroke-linejoin="round" />
<polyline points="128.9,296.6 132.9,336.2 136.7,374.6" fill="none" stroke="#e2bf96" stroke-width="0.7" opacity="0.35"/>
<polyline points="141.6,334.4 143.7,353.3 145.2,371.8" fill="none" stroke="#b4875a" stroke-width="0.7" opacity="0.35"/>
<polyline points="121.0,337.6 123.0,356.7 125.0,375.3" fill="none" stroke="#e2bf96" stroke-width="0.7" opacity="0.35"/>
<polyline points="143.7,403.7 145.7,423.6 147.5,443.0" fill="none" stroke="#b4875a" stroke-width="0.7" opacity="0.35"/>
<polyline points="154.1,424.9 157.4,458.4 160.3,490.8" fill="none" stroke="#e2bf96" stroke-width="0.7" opacity="0.35"/>
<polyline points="156.6,289.0 160.9,336.6 164.8,382.3" fill="none" stroke="#b4875a" stroke-width="0.7" opacity="0.35"/>
<polyline points="120.4,288.5 123.7,316.8 126.1,344.0" fill="none" stroke="#e2bf96" stroke-width="0.7" opacity="0.35"/>
<polyline points="129.5,362.8 133.5,399.8 137.0,435.6" fill="none" stroke="#b4875a" stroke-width="0.7" opacity="0.35"/>
<polyline points="137.5,285.3 139.5,305.1 141.2,324.5" fill="none" stroke="#e2bf96" stroke-width="0.7" opacity="0.35"/>
<polyline points="148.9,346.4 151.8,373.7 153.9,400.2" fill="none" stroke="#b4875a" stroke-width="0.7" opacity="0.35"/>
<polyline points="137.0,322.6 141.6,366.4 145.3,408.3" fill="none" stroke="#e2bf96" stroke-width="0.7" opacity="0.35"/>
<polyline points="132.2,362.6 136.0,396.2 138.8,428.5" fill="none" stroke="#b4875a" stroke-width="0.7" opacity="0.35"/>
<polyline points="149.0,324.8 153.7,374.9 158.1,422.7" fill="none" stroke="#e2bf96" stroke-width="0.7" opacity="0.35"/>
<polyline points="142.4,393.2 144.7,414.1 146.4,434.5" fill="none" stroke="#b4875a" stroke-width="0.7" opacity="0.35"/>
<polyline points="124.9,373.9 129.4,414.5 133.2,453.4" fill="none" stroke="#e2bf96" stroke-width="0.7" opacity="0.35"/>
<polyline points="155.9,331.2 159.9,371.8 163.0,410.7" fill="none" stroke="#b4875a" stroke-width="0.7" opacity="0.35"/>
<polyline points="144.9,349.4 149.6,393.8 153.2,436.2" fill="none" stroke="#e2bf96" stroke-width="0.7" opacity="0.35"/>
<polyline points="143.4,379.9 145.6,398.3 146.9,416.1" fill="none" stroke="#b4875a" stroke-width="0.7" opacity="0.35"/>
<polyline points="155.5,431.8 158.6,463.3 161.3,493.8" fill="none" stroke="#e2bf96" stroke-width="0.7" opacity="0.35"/>
<polyline points="139.7,379.3 141.6,396.3 143.0,412.9" fill="none" stroke="#b4875a" stroke-width="0.7" opacity="0.35"/>
<polyline points="121.4,288.8 123.8,308.4 125.4,327.4" fill="none" stroke="#e2bf96" stroke-width="0.7" opacity="0.35"/>
<polyline points="121.9,309.4 125.5,339.9 128.1,369.4" fill="none" stroke="#b4875a" stroke-width="0.7" opacity="0.35"/>
<polyline points="123.1,340.7 127.2,375.6 130.2,409.1" fill="none" stroke="#e2bf96" stroke-width="0.7" opacity="0.35"/>
<polyline points="161.1,415.5 163.6,440.2 165.5,464.2" fill="none" stroke="#b4875a" stroke-width="0.7" opacity="0.35"/>
<polyline points="141.7,411.2 145.7,450.9 149.4,489.1" fill="none" stroke="#e2bf96" stroke-width="0.7" opacity="0.35"/>
<polyline points="123.7,307.6 126.5,332.8 128.8,357.3" fill="none" stroke="#b4875a" stroke-width="0.7" opacity="0.35"/>
<polyline points="142.4,318.7 144.3,336.1 145.7,353.0" fill="none" stroke="#e2bf96" stroke-width="0.7" opacity="0.35"/>
<polyline points="137.4,363.3 142.4,410.6 146.6,455.7" fill="none" stroke="#b4875a" stroke-width="0.7" opacity="0.35"/>
<polyline points="144.5,373.5 148.2,411.6 151.7,448.4" fill="none" stroke="#e2bf96" stroke-width="0.7" opacity="0.35"/>
<polyline points="163.5,404.2 167.7,447.9 171.1,489.7" fill="none" stroke="#b4875a" stroke-width="0.7" opacity="0.35"/>
<polyline points="135.9,337.5 138.2,357.9 139.8,377.7" fill="none" stroke="#e2bf96" stroke-width="0.7" opacity="0.35"/>
<polyline points="115.9,279.1 118.6,303.9 121.0,328.1" fill="none" stroke="#b4875a" stroke-width="0.7" opacity="0.35"/>
<polyline points="128.0,280.6 129.8,298.3 131.5,315.6" fill="none" stroke="#e2bf96" stroke-width="0.7" opacity="0.35"/>
<polyline points="122.6,327.5 124.9,345.4 126.3,362.7" fill="none" stroke="#b4875a" stroke-width="0.7" opacity="0.35"/>
<polyline points="141.8,300.5 144.4,326.7 146.7,352.2" fill="none" stroke="#e2bf96" stroke-width="0.7" opacity="0.35"/>
<polyline points="130.2,292.6 135.4,339.3 139.3,383.9" fill="none" stroke="#b4875a" stroke-width="0.7" opacity="0.35"/>
<polyline points="140.4,352.0 142.3,371.4 144.1,390.6" fill="none" stroke="#e2bf96" stroke-width="0.7" opacity="0.35"/>
<polyline points="131.6,315.3 136.1,360.3 140.3,403.6" fill="none" stroke="#b4875a" stroke-width="0.7" opacity="0.35"/>
<polyline points="128.6,415.8 132.0,447.7 135.2,478.6" fill="none" stroke="#e2bf96" stroke-width="0.7" opacity="0.35"/>
<polyline points="136.7,279.3 140.7,315.7 143.5,350.6" fill="none" stroke="#b4875a" stroke-width="0.7" opacity="0.35"/>
<polyline points="252.1,223.7 273.4,212.0 293.6,200.7" fill="none" stroke="#e2bf96" stroke-width="0.7" opacity="0.25"/>
<polyline points="233.9,209.0 263.0,193.9 289.9,179.3" fill="none" stroke="#b4875a" stroke-width="0.7" opacity="0.25"/>
<polyline points="162.1,253.0 204.1,231.0 242.2,210.2" fill="none" stroke="#e2bf96" stroke-width="0.7" opacity="0.25"/>
<polyline points="266.0,215.6 301.5,196.3 334.1,178.0" fill="none" stroke="#b4875a" stroke-width="0.7" opacity="0.25"/>
<polyline points="201.2,228.4 226.7,214.8 251.1,201.9" fill="none" stroke="#e2bf96" stroke-width="0.7" opacity="0.25"/>
<polyline points="157.6,244.2 182.3,231.5 205.3,219.2" fill="none" stroke="#b4875a" stroke-width="0.7" opacity="0.25"/>
<polyline points="221.9,243.8 264.1,220.8 302.2,199.2" fill="none" stroke="#e2bf96" stroke-width="0.7" opacity="0.25"/>
<polyline points="210.1,250.3 232.0,238.2 252.8,226.6" fill="none" stroke="#b4875a" stroke-width="0.7" opacity="0.25"/>
<polyline points="153.4,252.6 190.0,233.6 223.5,215.5" fill="none" stroke="#e2bf96" stroke-width="0.7" opacity="0.25"/>
<polyline points="221.6,239.7 255.5,221.3 286.7,203.8" fill="none" stroke="#b4875a" stroke-width="0.7" opacity="0.25"/>
<polyline points="215.4,215.9 255.9,194.9 292.8,175.1" fill="none" stroke="#e2bf96" stroke-width="0.7" opacity="0.25"/>
<polyline points="217.6,238.5 238.0,227.7 257.0,216.9" fill="none" stroke="#b4875a" stroke-width="0.7" opacity="0.25"/>
<polyline points="244.4,209.1 284.4,187.9 321.2,168.1" fill="none" stroke="#e2bf96" stroke-width="0.7" opacity="0.25"/>
<polyline points="266.0,199.9 295.8,184.0 323.7,168.9" fill="none" stroke="#b4875a" stroke-width="0.7" opacity="0.25"/>
<polyline points="142.0,256.0 188.0,232.1 229.7,209.8" fill="none" stroke="#e2bf96" stroke-width="0.7" opacity="0.25"/>
<polyline points="240.3,204.9 278.9,184.7 314.2,165.8" fill="none" stroke="#b4875a" stroke-width="0.7" opacity="0.25"/>
<polyline points="210.8,227.7 229.5,217.7 247.5,208.1" fill="none" stroke="#e2bf96" stroke-width="0.7" opacity="0.25"/>
<polyline points="250.3,228.5 279.3,212.8 305.9,197.6" fill="none" stroke="#b4875a" stroke-width="0.7" opacity="0.25"/>
<polyline points="257.7,205.5 292.5,186.8 325.0,169.3" fill="none" stroke="#e2bf96" stroke-width="0.7" opacity="0.25"/>
<polyline points="169.4,246.2 193.1,233.8 215.3,221.8" fill="none" stroke="#b4875a" stroke-width="0.7" opacity="0.25"/>
<polyline points="188.4,236.4 208.2,226.2 226.5,216.1" fill="none" stroke="#e2bf96" stroke-width="0.7" opacity="0.25"/>
<polyline points="198.0,234.6 230.9,217.4 261.0,201.0" fill="none" stroke="#b4875a" stroke-width="0.7" opacity="0.25"/>
<polyline points="263.1,202.1 290.0,187.9 315.2,174.2" fill="none" stroke="#e2bf96" stroke-width="0.7" opacity="0.25"/>
<polyline points="138.6,273.0 170.2,256.0 200.0,239.8" fill="none" stroke="#b4875a" stroke-width="0.7" opacity="0.25"/>
<polyline points="230.9,204.9 250.1,195.1 268.1,185.4" fill="none" stroke="#e2bf96" stroke-width="0.7" opacity="0.25"/>
<polyline points="227.5,232.2 251.6,219.2 274.2,206.6" fill="none" stroke="#b4875a" stroke-width="0.7" opacity="0.25"/>
<polyline points="251.2,213.2 268.2,204.2 284.2,195.3" fill="none" stroke="#e2bf96" stroke-width="0.7" opacity="0.25"/>
<polyline points="166.8,247.5 206.9,226.3 243.8,206.5" fill="none" stroke="#b4875a" stroke-width="0.7" opacity="0.25"/>
<polyline points="248.2,215.1 287.0,194.3 322.6,174.8" fill="none" stroke="#e2bf96" stroke-width="0.7" opacity="0.25"/>
<polyline points="215.7,234.5 245.7,218.5 273.4,203.2" fill="none" stroke="#b4875a" stroke-width="0.7" opacity="0.25"/>
<polygon points="157.0,281.5 346.0,176.3 354.4,372.2 176.0,499.6" fill="#b58c60" stroke="#2a1d10" stroke-width="1" stroke-linejoin="round" />
<polygon points="160.7,284.7 189.8,268.4 201.9,421.0 174.1,439.7" fill="url(#g4)" />
<polygon points="189.8,268.4 223.8,249.4 234.4,399.2 201.9,421.0" fill="url(#g5)" />
<polygon points="192.4,301.0 226.0,281.3 190.0,271.5" fill="url(#g6)" />
<line x1="190.0" y1="271.5" x2="226.0" y2="281.3" stroke="#3d2c1a" stroke-width="0.8" />
<polygon points="163.6,317.8 192.4,301.0 193.2,311.1 164.5,328.1" fill="#f6efc6" />
<line x1="164.5" y1="328.1" x2="193.2" y2="311.1" stroke="#2a1d10" stroke-width="1.0" />
<polygon points="195.4,339.6 228.7,319.2 193.1,310.6" fill="url(#g7)" />
<line x1="193.1" y1="310.6" x2="228.7" y2="319.2" stroke="#3d2c1a" stroke-width="0.8" />
<polygon points="166.9,357.0 195.4,339.6 196.2,349.6 167.8,367.1" fill="#f6efc6" />
<line x1="167.8" y1="367.1" x2="196.2" y2="349.6" stroke="#2a1d10" stroke-width="1.0" />
<polygon points="198.4,377.5 231.4,356.4 196.2,349.1" fill="url(#g8)" />
<line x1="196.2" y1="349.1" x2="231.4" y2="356.4" stroke="#3d2c1a" stroke-width="0.8" />
<polygon points="201.9,421.0 234.4,399.2 199.7,393.2" fill="url(#g9)" />
<line x1="199.7" y1="393.2" x2="234.4" y2="399.2" stroke="#3d2c1a" stroke-width="0.8" />
<line x1="163.6" y1="317.8" x2="226.0" y2="281.3" stroke="#2a1d10" stroke-width="1.3" />
<line x1="166.9" y1="357.0" x2="228.7" y2="319.2" stroke="#2a1d10" stroke-width="1.3" />
<line x1="170.3" y1="395.5" x2="231.4" y2="356.4" stroke="#2a1d10" stroke-width="1.3" />
<polygon points="160.7,284.7 162.2,283.9 175.5,438.8 174.1,439.7" fill="#a07b52" />
<polygon points="188.1,269.4 191.4,267.5 203.5,420.0 200.3,422.1" fill="#a07b52" />
<polygon points="222.4,250.1 223.8,249.4 234.4,399.2 233.2,400.0" fill="#a07b52" />
<line x1="189.8" y1="268.4" x2="201.9" y2="421.0" stroke="#2a1d10" stroke-width="0.9" />
<polyline points="160.7,284.7 223.8,249.4 234.4,399.2 174.1,439.7 160.7,284.7" fill="none" stroke="#2a1d10" stroke-width="1" />
<line x1="157.3" y1="284.5" x2="226.6" y2="245.8" stroke="#3a2a1a" stroke-width="2.6" />
<polygon points="174.1,439.7 234.4,399.2 234.6,401.6 174.3,442.3" fill="#80807a" />
<line x1="174.3" y1="442.3" x2="234.6" y2="401.6" stroke="#2a1d10" stroke-width="0.7" />
<polygon points="173.0,447.2 204.6,425.8 208.5,474.7 177.3,496.9" fill="#d8b48a" stroke="#2a1d10" stroke-width="0.8" stroke-linejoin="round" />
<polyline points="176.6,449.5 201.9,432.4 205.1,472.5 180.1,490.2 176.6,449.5" fill="none" stroke="#e9d6b8" stroke-width="0.9" />
<polyline points="177.5,450.1 201.2,434.0 204.2,472.0 180.8,488.5 177.5,450.1" fill="none" stroke="#b98d62" stroke-width="0.5" />
<ellipse cx="189.2" cy="438.9" rx="2.8" ry="1.7" fill="#7d5d3b" stroke="#2a1d10" stroke-width="0.5"/>
<polygon points="206.2,424.8 236.4,404.3 239.8,452.4 210.0,473.6" fill="#d8b48a" stroke="#2a1d10" stroke-width="0.8" stroke-linejoin="round" />
<polyline points="209.6,427.1 233.7,410.7 236.5,450.2 212.7,467.1 209.6,427.1" fill="none" stroke="#e9d6b8" stroke-width="0.9" />
<polyline points="210.5,427.7 233.1,412.3 235.7,449.6 213.4,465.5 210.5,427.7" fill="none" stroke="#b98d62" stroke-width="0.5" />
<ellipse cx="221.6" cy="416.9" rx="2.8" ry="1.7" fill="#7d5d3b" stroke="#2a1d10" stroke-width="0.5"/>
<line x1="157.0" y1="281.5" x2="176.0" y2="499.6" stroke="#2a1d10" stroke-width="1.8" />
<polygon points="229.7,246.1 256.1,231.3 265.5,378.3 240.1,395.3" fill="url(#g10)" />
<polygon points="256.1,231.3 287.0,213.9 295.2,358.3 265.5,378.3" fill="url(#g11)" />
<polygon points="258.1,262.6 288.8,244.7 256.3,234.2" fill="url(#g12)" />
<line x1="256.3" y1="234.2" x2="288.8" y2="244.7" stroke="#3d2c1a" stroke-width="0.8" />
<polygon points="231.9,277.9 258.1,262.6 258.7,272.4 232.6,287.8" fill="#f6efc6" />
<line x1="232.6" y1="287.8" x2="258.7" y2="272.4" stroke="#2a1d10" stroke-width="1.0" />
<polygon points="260.5,299.8 290.8,281.2 258.7,271.9" fill="url(#g13)" />
<line x1="258.7" y1="271.9" x2="290.8" y2="281.2" stroke="#3d2c1a" stroke-width="0.8" />
<polygon points="234.6,315.6 260.5,299.8 261.1,309.4 235.3,325.4" fill="#f6efc6" />
<line x1="235.3" y1="325.4" x2="261.1" y2="309.4" stroke="#2a1d10" stroke-width="1.0" />
<polygon points="262.8,336.3 292.9,317.1 261.1,308.9" fill="url(#g14)" />
<line x1="261.1" y1="308.9" x2="292.9" y2="317.1" stroke="#3d2c1a" stroke-width="0.8" />
<polygon points="265.5,378.3 295.2,358.3 263.8,351.5" fill="url(#g15)" />
<line x1="263.8" y1="351.5" x2="295.2" y2="358.3" stroke="#3d2c1a" stroke-width="0.8" />
<line x1="231.9" y1="277.9" x2="288.8" y2="244.7" stroke="#2a1d10" stroke-width="1.3" />
<line x1="234.6" y1="315.6" x2="290.8" y2="281.2" stroke="#2a1d10" stroke-width="1.3" />
<line x1="237.2" y1="352.7" x2="292.9" y2="317.1" stroke="#2a1d10" stroke-width="1.3" />
<polygon points="229.7,246.1 231.0,245.3 241.4,394.5 240.1,395.3" fill="#a07b52" />
<polygon points="254.6,232.1 257.6,230.4 266.9,377.3 264.0,379.3" fill="#a07b52" />
<polygon points="285.8,214.6 287.0,213.9 295.2,358.3 294.0,359.1" fill="#a07b52" />
<line x1="256.1" y1="231.3" x2="265.5" y2="378.3" stroke="#2a1d10" stroke-width="0.9" />
<polyline points="229.7,246.1 287.0,213.9 295.2,358.3 240.1,395.3 229.7,246.1" fill="none" stroke="#2a1d10" stroke-width="1" />
<line x1="226.6" y1="245.8" x2="289.7" y2="210.6" stroke="#3a2a1a" stroke-width="2.6" />
<polygon points="240.1,395.3 295.2,358.3 295.3,360.7 240.3,397.8" fill="#80807a" />
<line x1="240.3" y1="397.8" x2="295.3" y2="360.7" stroke="#2a1d10" stroke-width="0.7" />
<polygon points="239.1,402.5 267.9,383.0 270.9,430.2 242.5,450.4" fill="#d8b48a" stroke="#2a1d10" stroke-width="0.8" stroke-linejoin="round" />
<polyline points="242.3,404.8 265.4,389.2 267.8,428.0 245.1,444.1 242.3,404.8" fill="none" stroke="#e9d6b8" stroke-width="0.9" />
<polyline points="243.2,405.4 264.7,390.8 267.1,427.4 245.7,442.5 243.2,405.4" fill="none" stroke="#b98d62" stroke-width="0.5" />
<ellipse cx="253.8" cy="395.1" rx="2.8" ry="1.7" fill="#7d5d3b" stroke="#2a1d10" stroke-width="0.5"/>
<polygon points="269.3,382.0 296.9,363.4 299.5,409.8 272.3,429.2" fill="#d8b48a" stroke="#2a1d10" stroke-width="0.8" stroke-linejoin="round" />
<polyline points="272.4,384.4 294.4,369.4 296.6,407.6 274.8,423.0 272.4,384.4" fill="none" stroke="#e9d6b8" stroke-width="0.9" />
<polyline points="273.2,385.0 293.8,370.9 295.9,407.0 275.4,421.5 273.2,385.0" fill="none" stroke="#b98d62" stroke-width="0.5" />
<ellipse cx="283.4" cy="375.0" rx="2.8" ry="1.7" fill="#7d5d3b" stroke="#2a1d10" stroke-width="0.5"/>
<line x1="226.4" y1="242.9" x2="241.2" y2="453.0" stroke="#2a1d10" stroke-width="1.8" />
<polygon points="292.4,210.9 316.0,197.7 323.1,339.6 300.4,354.9" fill="url(#g16)" />
<polygon points="316.0,197.7 343.8,182.2 349.8,321.6 323.1,339.6" fill="url(#g17)" />
<polygon points="317.5,227.9 345.0,211.8 316.2,200.6" fill="url(#g18)" />
<line x1="316.2" y1="200.6" x2="345.0" y2="211.8" stroke="#3d2c1a" stroke-width="0.8" />
<polygon points="294.1,241.6 317.5,227.9 318.0,237.3 294.6,251.1" fill="#f6efc6" />
<line x1="294.6" y1="251.1" x2="318.0" y2="237.3" stroke="#2a1d10" stroke-width="1.0" />
<polygon points="319.3,263.7 346.6,247.0 318.0,236.9" fill="url(#g19)" />
<line x1="318.0" y1="236.9" x2="346.6" y2="247.0" stroke="#3d2c1a" stroke-width="0.8" />
<polygon points="296.1,277.9 319.3,263.7 319.8,273.0 296.6,287.4" fill="#f6efc6" />
<line x1="296.6" y1="287.4" x2="319.8" y2="273.0" stroke="#2a1d10" stroke-width="1.0" />
<polygon points="321.1,299.0 348.1,281.7 319.7,272.6" fill="url(#g20)" />
<line x1="319.7" y1="272.6" x2="348.1" y2="281.7" stroke="#3d2c1a" stroke-width="0.8" />
<polygon points="323.1,339.6 349.8,321.6 321.8,313.7" fill="url(#g21)" />
<line x1="321.8" y1="313.7" x2="349.8" y2="321.6" stroke="#3d2c1a" stroke-width="0.8" />
<line x1="294.1" y1="241.6" x2="345.0" y2="211.8" stroke="#2a1d10" stroke-width="1.3" />
<line x1="296.1" y1="277.9" x2="346.6" y2="247.0" stroke="#2a1d10" stroke-width="1.3" />
<line x1="298.1" y1="313.7" x2="348.1" y2="281.7" stroke="#2a1d10" stroke-width="1.3" />
<polygon points="292.4,210.9 293.6,210.3 301.5,354.1 300.4,354.9" fill="#a07b52" />
<polygon points="314.7,198.5 317.4,196.9 324.4,338.7 321.8,340.5" fill="#a07b52" />
<polygon points="342.7,182.8 343.8,182.2 349.8,321.6 348.8,322.3" fill="#a07b52" />
<line x1="316.0" y1="197.7" x2="323.1" y2="339.6" stroke="#2a1d10" stroke-width="0.9" />
<polyline points="292.4,210.9 343.8,182.2 349.8,321.6 300.4,354.9 292.4,210.9" fill="none" stroke="#2a1d10" stroke-width="1" />
<line x1="289.7" y1="210.6" x2="346.1" y2="179.0" stroke="#3a2a1a" stroke-width="2.6" />
<polygon points="300.4,354.9 349.8,321.6 349.9,323.9 300.5,357.2" fill="#80807a" />
<line x1="300.5" y1="357.2" x2="349.9" y2="323.9" stroke="#2a1d10" stroke-width="0.7" />
<polygon points="299.4,361.7 325.2,344.2 327.5,389.9 302.0,408.0" fill="#d8b48a" stroke="#2a1d10" stroke-width="0.8" stroke-linejoin="round" />
<polyline points="302.2,364.1 322.9,350.1 324.8,387.6 304.3,402.1 302.2,364.1" fill="none" stroke="#e9d6b8" stroke-width="0.9" />
<polyline points="303.0,364.7 322.3,351.6 324.1,387.0 304.9,400.6 303.0,364.7" fill="none" stroke="#b98d62" stroke-width="0.5" />
<ellipse cx="312.5" cy="355.2" rx="2.8" ry="1.7" fill="#7d5d3b" stroke="#2a1d10" stroke-width="0.5"/>
<polygon points="326.5,343.4 351.3,326.6 353.2,371.5 328.7,389.0" fill="#d8b48a" stroke="#2a1d10" stroke-width="0.8" stroke-linejoin="round" />
<polyline points="329.2,345.8 349.0,332.3 350.6,369.2 331.0,383.1 329.2,345.8" fill="none" stroke="#e9d6b8" stroke-width="0.9" />
<polyline points="329.9,346.4 348.5,333.7 350.0,368.6 331.6,381.7 329.9,346.4" fill="none" stroke="#b98d62" stroke-width="0.5" />
<ellipse cx="339.1" cy="337.2" rx="2.8" ry="1.7" fill="#7d5d3b" stroke="#2a1d10" stroke-width="0.5"/>
<line x1="289.5" y1="207.7" x2="300.8" y2="410.5" stroke="#2a1d10" stroke-width="1.8" />
<line x1="346.0" y1="176.3" x2="354.4" y2="372.2" stroke="#2a1d10" stroke-width="1.3" />
<line x1="176.0" y1="499.6" x2="354.4" y2="372.2" stroke="#2a1d10" stroke-width="1.3" />
<line x1="187.8" y1="227.3" x2="226.4" y2="242.9" stroke="#2a1d10" stroke-width="2" />
<line x1="252.7" y1="193.4" x2="289.5" y2="207.7" stroke="#2a1d10" stroke-width="2" />
<polyline points="112.0,267.0 308.8,164.0 346.0,176.3 157.0,281.5 112.0,267.0" fill="none" stroke="#2a1d10" stroke-width="1.3" />
<polyline points="112.0,267.0 134.8,483.3 176.0,499.6" fill="none" stroke="#2a1d10" stroke-width="1.2" />
<polygon points="488.0,67.0 723.9,118.8 703.4,133.5 464.6,80.0" fill="url(#g22)" stroke="#2a1d10" stroke-width="1" stroke-linejoin="round" />
<polygon points="703.4,133.5 723.9,118.8 718.5,215.0 699.0,235.0" fill="url(#g23)" stroke="#2a1d10" stroke-width="1" stroke-linejoin="round" />
<polygon points="464.6,80.0 703.4,133.5 697.5,320.0 465.7,262.0" fill="#b58c60" stroke="#2a1d10" stroke-width="1" stroke-linejoin="round" />
<polygon points="466.3,84.5 485.1,88.7 485.5,217.0 467.0,212.5" fill="url(#g24)" />
<polygon points="485.1,88.7 540.3,101.1 539.5,230.1 485.5,217.0" fill="url(#g25)" />
<polygon points="466.5,117.0 485.2,105.3 540.2,117.8 540.1,133.9" fill="url(#g26)" />
<polyline points="466.5,117.0 485.2,105.3 540.2,117.8" fill="none" stroke="#3d2c1a" stroke-width="0.8" />
<line x1="466.5" y1="117.0" x2="540.1" y2="133.9" stroke="#2a1d10" stroke-width="1.2" />
<polygon points="466.7,149.1 485.2,137.7 540.0,150.3 539.9,166.3" fill="url(#g27)" />
<polyline points="466.7,149.1 485.2,137.7 540.0,150.3" fill="none" stroke="#3d2c1a" stroke-width="0.8" />
<line x1="466.7" y1="149.1" x2="539.9" y2="166.3" stroke="#2a1d10" stroke-width="1.2" />
<polygon points="466.9,181.0 485.3,169.7 539.8,182.6 539.7,198.3" fill="url(#g28)" />
<polyline points="466.9,181.0 485.3,169.7 539.8,182.6" fill="none" stroke="#3d2c1a" stroke-width="0.8" />
<line x1="466.9" y1="181.0" x2="539.7" y2="198.3" stroke="#2a1d10" stroke-width="1.2" />
<polygon points="467.0,212.5 485.4,201.5 539.6,214.5 539.5,230.1" fill="url(#g29)" />
<polyline points="467.0,212.5 485.4,201.5 539.6,214.5" fill="none" stroke="#3d2c1a" stroke-width="0.8" />
<line x1="485.1" y1="88.7" x2="485.4" y2="201.5" stroke="#6b5030" stroke-width="0.6" />
<line x1="504.6" y1="93.1" x2="504.5" y2="221.6" stroke="#2a1d10" stroke-width="1.4" />
<polyline points="466.3,84.5 540.3,101.1 539.5,230.1 467.0,212.5 466.3,84.5" fill="none" stroke="#2a1d10" stroke-width="1" />
<line x1="464.6" y1="82.5" x2="542.0" y2="99.8" stroke="#3a2a1a" stroke-width="2.6" />
<polygon points="467.0,212.5 539.5,230.1 539.5,232.6 467.1,215.0" fill="#80807a" />
<polygon points="467.1,219.7 502.2,228.2 502.2,269.7 467.3,261.0" fill="#d8b48a" stroke="#2a1d10" stroke-width="0.8" stroke-linejoin="round" />
<polyline points="470.6,224.3 498.7,231.1 498.7,265.1 470.8,258.2 470.6,224.3" fill="none" stroke="#e9d6b8" stroke-width="0.9" />
<polyline points="471.5,225.4 497.8,231.9 497.8,264.0 471.6,257.5 471.5,225.4" fill="none" stroke="#b98d62" stroke-width="0.5" />
<ellipse cx="484.6" cy="226.1" rx="2.8" ry="1.7" fill="#7d5d3b" stroke="#2a1d10" stroke-width="0.5"/>
<polygon points="504.0,228.7 539.5,237.3 539.2,279.0 504.0,270.2" fill="#d8b48a" stroke="#2a1d10" stroke-width="0.8" stroke-linejoin="round" />
<polyline points="507.5,233.3 535.9,240.2 535.7,274.4 507.5,267.3 507.5,233.3" fill="none" stroke="#e9d6b8" stroke-width="0.9" />
<polyline points="508.4,234.5 535.0,241.0 534.8,273.2 508.4,266.6 508.4,234.5" fill="none" stroke="#b98d62" stroke-width="0.5" />
<ellipse cx="521.7" cy="235.2" rx="2.8" ry="1.7" fill="#7d5d3b" stroke="#2a1d10" stroke-width="0.5"/>
<line x1="464.6" y1="80.0" x2="465.7" y2="262.0" stroke="#2a1d10" stroke-width="1.8" />
<polygon points="543.7,101.9 562.6,106.1 561.4,235.4 542.8,230.9" fill="url(#g30)" />
<polygon points="562.6,106.1 618.2,118.6 615.8,248.7 561.4,235.4" fill="url(#g31)" />
<polygon points="543.5,134.6 562.5,122.8 617.9,135.4 617.6,151.6" fill="url(#g32)" />
<polyline points="543.5,134.6 562.5,122.8 617.9,135.4" fill="none" stroke="#3d2c1a" stroke-width="0.8" />
<line x1="543.5" y1="134.6" x2="617.6" y2="151.6" stroke="#2a1d10" stroke-width="1.2" />
<polygon points="543.3,167.1 562.2,155.5 617.3,168.2 617.0,184.3" fill="url(#g33)" />
<polyline points="543.3,167.1 562.2,155.5 617.3,168.2" fill="none" stroke="#3d2c1a" stroke-width="0.8" />
<line x1="543.3" y1="167.1" x2="617.0" y2="184.3" stroke="#2a1d10" stroke-width="1.2" />
<polygon points="543.1,199.2 561.9,187.8 616.7,200.8 616.4,216.6" fill="url(#g34)" />
<polyline points="543.1,199.2 561.9,187.8 616.7,200.8" fill="none" stroke="#3d2c1a" stroke-width="0.8" />
<line x1="543.1" y1="199.2" x2="616.4" y2="216.6" stroke="#2a1d10" stroke-width="1.2" />
<polygon points="542.8,230.9 561.6,219.8 616.1,232.9 615.8,248.7" fill="url(#g35)" />
<polyline points="542.8,230.9 561.6,219.8 616.1,232.9" fill="none" stroke="#3d2c1a" stroke-width="0.8" />
<line x1="562.6" y1="106.1" x2="561.6" y2="219.8" stroke="#6b5030" stroke-width="0.6" />
<line x1="582.2" y1="110.5" x2="580.6" y2="240.1" stroke="#2a1d10" stroke-width="1.4" />
<polyline points="543.7,101.9 618.2,118.6 615.8,248.7 542.8,230.9 543.7,101.9" fill="none" stroke="#2a1d10" stroke-width="1" />
<line x1="542.0" y1="99.8" x2="620.0" y2="117.3" stroke="#3a2a1a" stroke-width="2.6" />
<polygon points="542.8,230.9 615.8,248.7 615.8,251.2 542.8,233.5" fill="#80807a" />
<polygon points="542.8,238.2 578.2,246.8 577.7,288.6 542.5,279.8" fill="#d8b48a" stroke="#2a1d10" stroke-width="0.8" stroke-linejoin="round" />
<polyline points="546.3,242.8 574.6,249.7 574.2,284.0 546.0,276.9 546.3,242.8" fill="none" stroke="#e9d6b8" stroke-width="0.9" />
<polyline points="547.2,243.9 573.7,250.4 573.3,282.8 546.9,276.2 547.2,243.9" fill="none" stroke="#b98d62" stroke-width="0.5" />
<ellipse cx="560.4" cy="244.6" rx="2.8" ry="1.7" fill="#7d5d3b" stroke="#2a1d10" stroke-width="0.5"/>
<polygon points="580.0,247.2 615.7,256.0 615.0,297.9 579.4,289.0" fill="#d8b48a" stroke="#2a1d10" stroke-width="0.8" stroke-linejoin="round" />
<polyline points="583.5,251.9 612.1,258.9 611.5,293.3 583.0,286.2 583.5,251.9" fill="none" stroke="#e9d6b8" stroke-width="0.9" />
<polyline points="584.3,253.0 611.1,259.6 610.6,292.1 583.9,285.5 584.3,253.0" fill="none" stroke="#b98d62" stroke-width="0.5" />
<ellipse cx="597.8" cy="253.8" rx="2.8" ry="1.7" fill="#7d5d3b" stroke="#2a1d10" stroke-width="0.5"/>
<line x1="542.0" y1="97.3" x2="540.9" y2="280.8" stroke="#2a1d10" stroke-width="1.8" />
<polygon points="621.7,119.4 642.0,124.0 639.1,254.3 619.3,249.5" fill="url(#g36)" />
<polygon points="642.0,124.0 701.4,137.3 697.3,268.5 639.1,254.3" fill="url(#g37)" />
<polygon points="621.1,152.4 641.6,140.8 700.9,154.2 700.4,170.6" fill="url(#g38)" />
<polyline points="621.1,152.4 641.6,140.8 700.9,154.2" fill="none" stroke="#3d2c1a" stroke-width="0.8" />
<line x1="621.1" y1="152.4" x2="700.4" y2="170.6" stroke="#2a1d10" stroke-width="1.2" />
<polygon points="620.5,185.1 640.9,173.7 699.8,187.4 699.3,203.6" fill="url(#g39)" />
<polyline points="620.5,185.1 640.9,173.7 699.8,187.4" fill="none" stroke="#3d2c1a" stroke-width="0.8" />
<line x1="620.5" y1="185.1" x2="699.3" y2="203.6" stroke="#2a1d10" stroke-width="1.2" />
<polygon points="619.9,217.5 640.2,206.3 698.8,220.2 698.3,236.2" fill="url(#g40)" />
<polyline points="619.9,217.5 640.2,206.3 698.8,220.2" fill="none" stroke="#3d2c1a" stroke-width="0.8" />
<line x1="619.9" y1="217.5" x2="698.3" y2="236.2" stroke="#2a1d10" stroke-width="1.2" />
<polygon points="619.3,249.5 639.5,238.5 697.8,252.6 697.3,268.5" fill="url(#g41)" />
<polyline points="619.3,249.5 639.5,238.5 697.8,252.6" fill="none" stroke="#3d2c1a" stroke-width="0.8" />
<line x1="642.0" y1="124.0" x2="639.5" y2="238.5" stroke="#6b5030" stroke-width="0.6" />
<line x1="662.9" y1="128.7" x2="659.6" y2="259.3" stroke="#2a1d10" stroke-width="1.4" />
<polyline points="621.7,119.4 701.4,137.3 697.3,268.5 619.3,249.5 621.7,119.4" fill="none" stroke="#2a1d10" stroke-width="1" />
<line x1="620.0" y1="117.3" x2="703.3" y2="136.0" stroke="#3a2a1a" stroke-width="2.6" />
<polygon points="619.3,249.5 697.3,268.5 697.2,271.0 619.3,252.1" fill="#80807a" />
<polygon points="619.1,256.8 656.9,266.0 655.9,308.1 618.4,298.8" fill="#d8b48a" stroke="#2a1d10" stroke-width="0.8" stroke-linejoin="round" />
<polyline points="622.8,261.5 653.1,268.9 652.2,303.4 622.2,295.9 622.8,261.5" fill="none" stroke="#e9d6b8" stroke-width="0.9" />
<polyline points="623.8,262.7 652.1,269.6 651.3,302.3 623.1,295.2 623.8,262.7" fill="none" stroke="#b98d62" stroke-width="0.5" />
<ellipse cx="638.0" cy="263.6" rx="2.8" ry="1.7" fill="#7d5d3b" stroke="#2a1d10" stroke-width="0.5"/>
<polygon points="658.9,266.5 697.1,275.8 695.8,318.1 657.8,308.6" fill="#d8b48a" stroke="#2a1d10" stroke-width="0.8" stroke-linejoin="round" />
<polyline points="662.6,271.2 693.1,278.7 692.1,313.4 661.7,305.8 662.6,271.2" fill="none" stroke="#e9d6b8" stroke-width="0.9" />
<polyline points="663.5,272.4 692.1,279.4 691.1,312.2 662.7,305.1 663.5,272.4" fill="none" stroke="#b98d62" stroke-width="0.5" />
<ellipse cx="677.9" cy="273.3" rx="2.8" ry="1.7" fill="#7d5d3b" stroke="#2a1d10" stroke-width="0.5"/>
<line x1="620.0" y1="114.8" x2="616.6" y2="299.8" stroke="#2a1d10" stroke-width="1.8" />
<line x1="703.4" y1="133.5" x2="697.5" y2="320.0" stroke="#2a1d10" stroke-width="1.3" />
<line x1="465.7" y1="262.0" x2="697.5" y2="320.0" stroke="#2a1d10" stroke-width="1.2" />
<line x1="567.0" y1="84.4" x2="542.0" y2="97.3" stroke="#2a1d10" stroke-width="2" />
<line x1="644.9" y1="101.4" x2="620.0" y2="114.8" stroke="#2a1d10" stroke-width="2" />
<polyline points="488.0,67.0 723.9,118.8 703.4,133.5 464.6,80.0 488.0,67.0" fill="none" stroke="#2a1d10" stroke-width="1.3" />
<line x1="723.9" y1="118.8" x2="718.5" y2="215.0" stroke="#2a1d10" stroke-width="1.2" />
<polygon points="716.7,276.5 781.2,220.4 777.0,300.0 713.0,340.0" fill="#cda477" stroke="#2a1d10" stroke-width="0.8" stroke-linejoin="round" />
<polygon points="649.0,260.6 716.7,276.5 714.6,311.0 648.0,293.5" fill="#d0a97d" stroke="#2a1d10" stroke-width="0.8" stroke-linejoin="round" />
<line x1="649.0" y1="264.1" x2="716.7" y2="280.0" stroke="#e6cba6" stroke-width="0.8" />
<polygon points="649.0,256.6 716.7,272.5 716.7,276.9 649.0,261.0" fill="#b98c60" stroke="#2a1d10" stroke-width="0.8" stroke-linejoin="round" />
<polygon points="716.7,272.5 781.2,216.4 781.2,220.8 716.7,276.9" fill="#b08256" stroke="#2a1d10" stroke-width="0.8" stroke-linejoin="round" />
<polygon points="717.7,200.6 781.2,216.4 716.7,272.5 649.0,256.6" fill="url(#g42)" stroke="#2a1d10" stroke-width="1.1" stroke-linejoin="round" />
<polyline points="712.1,231.2 720.9,234.1 731.2,235.8" fill="none" stroke="#e2bf96" stroke-width="0.7" opacity="0.3"/>
<polyline points="711.3,248.9 723.9,252.2 736.8,255.0" fill="none" stroke="#b4875a" stroke-width="0.7" opacity="0.3"/>
<polyline points="723.8,241.7 734.8,244.5 745.9,247.1" fill="none" stroke="#e2bf96" stroke-width="0.7" opacity="0.3"/>
<polyline points="729.7,212.0 735.0,213.6 740.7,214.8" fill="none" stroke="#b4875a" stroke-width="0.7" opacity="0.3"/>
<polyline points="743.0,212.0 754.6,215.6 767.5,218.0" fill="none" stroke="#e2bf96" stroke-width="0.7" opacity="0.3"/>
<polyline points="739.9,216.9 750.9,219.7 762.1,222.3" fill="none" stroke="#b4875a" stroke-width="0.7" opacity="0.3"/>
<polyline points="703.1,260.5 709.5,262.9 717.5,263.9" fill="none" stroke="#e2bf96" stroke-width="0.7" opacity="0.3"/>
<polyline points="713.6,227.7 727.5,231.8 742.6,234.7" fill="none" stroke="#b4875a" stroke-width="0.7" opacity="0.3"/>
<polyline points="726.6,214.1 736.2,216.7 746.2,218.9" fill="none" stroke="#e2bf96" stroke-width="0.7" opacity="0.3"/>
<polyline points="719.3,214.7 731.1,217.6 742.9,220.5" fill="none" stroke="#b4875a" stroke-width="0.7" opacity="0.3"/>
<polyline points="701.0,235.8 705.8,237.3 711.2,238.3" fill="none" stroke="#e2bf96" stroke-width="0.7" opacity="0.3"/>
<polyline points="699.6,240.6 704.4,242.6 710.8,243.3" fill="none" stroke="#b4875a" stroke-width="0.7" opacity="0.3"/>
<polyline points="709.7,255.1 715.5,256.7 721.8,258.0" fill="none" stroke="#e2bf96" stroke-width="0.7" opacity="0.3"/>
<polyline points="750.0,211.4 757.3,213.3 764.7,215.0" fill="none" stroke="#b4875a" stroke-width="0.7" opacity="0.3"/>
<polyline points="731.3,233.7 742.9,236.7 754.8,239.4" fill="none" stroke="#e2bf96" stroke-width="0.7" opacity="0.3"/>
<polyline points="749.3,218.8 759.0,221.8 769.7,223.9" fill="none" stroke="#b4875a" stroke-width="0.7" opacity="0.3"/>
<polyline points="714.4,206.0 725.6,209.1 737.4,211.7" fill="none" stroke="#e2bf96" stroke-width="0.7" opacity="0.3"/>
<polyline points="755.0,214.9 765.2,218.1 776.6,220.2" fill="none" stroke="#b4875a" stroke-width="0.7" opacity="0.3"/>
<polyline points="750.7,214.6 755.4,216.5 761.5,217.3" fill="none" stroke="#e2bf96" stroke-width="0.7" opacity="0.3"/>
<polyline points="703.1,229.1 712.7,232.2 723.8,234.1" fill="none" stroke="#b4875a" stroke-width="0.7" opacity="0.3"/>
<polyline points="705.9,216.5 715.7,219.1 725.9,221.4" fill="none" stroke="#e2bf96" stroke-width="0.7" opacity="0.3"/>
<polyline points="717.8,208.3 723.0,209.7 728.5,210.9" fill="none" stroke="#b4875a" stroke-width="0.7" opacity="0.3"/>
<polyline points="711.0,220.9 723.0,224.1 735.5,226.9" fill="none" stroke="#e2bf96" stroke-width="0.7" opacity="0.3"/>
<polyline points="692.5,229.9 700.9,231.9 709.2,233.9" fill="none" stroke="#b4875a" stroke-width="0.7" opacity="0.3"/>
<polyline points="701.9,214.3 713.5,217.6 725.9,220.2" fill="none" stroke="#e2bf96" stroke-width="0.7" opacity="0.3"/>
<polyline points="726.8,216.1 740.5,219.6 754.4,222.9" fill="none" stroke="#b4875a" stroke-width="0.7" opacity="0.3"/>
<polyline points="682.4,250.9 691.7,253.8 702.4,255.6" fill="none" stroke="#e2bf96" stroke-width="0.7" opacity="0.3"/>
<polyline points="714.8,227.6 725.6,231.1 738.0,233.2" fill="none" stroke="#b4875a" stroke-width="0.7" opacity="0.3"/>
<polyline points="732.9,228.4 744.1,231.7 756.3,234.1" fill="none" stroke="#e2bf96" stroke-width="0.7" opacity="0.3"/>
<polyline points="706.7,226.5 712.1,227.9 717.6,229.1" fill="none" stroke="#b4875a" stroke-width="0.7" opacity="0.3"/>
<line x1="748.0" y1="251.0" x2="746.3" y2="276.0" stroke="#2a1d10" stroke-width="0.8" />
<line x1="716.7" y1="285.0" x2="746.5" y2="262.0" stroke="#2a1d10" stroke-width="0.6" />
<polygon points="676.5,319.0 704.4,294.6 714.6,297.0 714.6,335.0 676.5,350.0" fill="#cba378" stroke="#2a1d10" stroke-width="0.8" stroke-linejoin="round" />
<line x1="679.0" y1="320.0" x2="679.0" y2="350.0" stroke="#2a1d10" stroke-width="0.7" />
<polygon points="653.3,309.5 676.5,318.0 676.5,321.2 653.3,312.7" fill="#b98c60" stroke="#2a1d10" stroke-width="0.7" stroke-linejoin="round" />
<polygon points="676.5,318.0 704.4,293.6 704.4,296.8 676.5,321.2" fill="#b08256" stroke="#2a1d10" stroke-width="0.7" stroke-linejoin="round" />
<polygon points="653.3,309.5 679.7,286.8 704.4,293.6 676.5,318.0" fill="#c89b6e" stroke="#2a1d10" stroke-width="1" stroke-linejoin="round" />
<polygon points="648.5,294.0 662.0,297.3 662.0,304.0 649.0,301.0" fill="#c79b6e" stroke="#2a1d10" stroke-width="0.7" stroke-linejoin="round" />
<polygon points="809.4,184.0 841.6,192.2 817.0,385.0 788.8,375.3" fill="url(#g43)" stroke="#2a1d10" stroke-width="1" stroke-linejoin="round" />
<polyline points="800.2,289.6 797.9,310.9 795.6,331.5" fill="none" stroke="#e2bf96" stroke-width="0.7" opacity="0.35"/>
<polyline points="799.1,303.0 795.3,340.5 791.2,376.1" fill="none" stroke="#b4875a" stroke-width="0.7" opacity="0.35"/>
<polyline points="814.3,222.2 811.7,246.6 808.9,270.1" fill="none" stroke="#e2bf96" stroke-width="0.7" opacity="0.35"/>
<polyline points="807.2,250.2 805.1,272.8 802.3,294.7" fill="none" stroke="#b4875a" stroke-width="0.7" opacity="0.35"/>
<polyline points="830.6,271.5 828.2,293.4 825.1,314.4" fill="none" stroke="#e2bf96" stroke-width="0.7" opacity="0.35"/>
<polyline points="813.3,238.9 811.7,254.1 809.9,268.9" fill="none" stroke="#b4875a" stroke-width="0.7" opacity="0.35"/>
<polyline points="816.0,260.9 813.8,281.5 811.3,301.6" fill="none" stroke="#e2bf96" stroke-width="0.7" opacity="0.35"/>
<polyline points="805.4,223.1 803.6,241.1 801.5,258.7" fill="none" stroke="#b4875a" stroke-width="0.7" opacity="0.35"/>
<polyline points="810.4,187.7 807.7,213.3 804.9,238.1" fill="none" stroke="#e2bf96" stroke-width="0.7" opacity="0.35"/>
<polyline points="819.0,265.5 814.9,301.8 810.5,336.4" fill="none" stroke="#b4875a" stroke-width="0.7" opacity="0.35"/>
<polyline points="817.3,313.7 814.4,338.2 811.4,361.9" fill="none" stroke="#e2bf96" stroke-width="0.7" opacity="0.35"/>
<polyline points="838.2,214.6 833.6,252.7 828.8,289.0" fill="none" stroke="#b4875a" stroke-width="0.7" opacity="0.35"/>
<polyline points="798.0,301.8 794.1,339.8 790.0,375.7" fill="none" stroke="#e2bf96" stroke-width="0.7" opacity="0.35"/>
<polyline points="818.9,305.1 816.9,323.1 814.6,340.5" fill="none" stroke="#b4875a" stroke-width="0.7" opacity="0.35"/>
<polyline points="811.7,306.0 807.7,341.9 803.4,376.0" fill="none" stroke="#e2bf96" stroke-width="0.7" opacity="0.35"/>
<polyline points="813.1,314.3 809.5,346.6 805.6,377.5" fill="none" stroke="#b4875a" stroke-width="0.7" opacity="0.35"/>
<polyline points="816.2,190.6 814.1,210.8 811.7,230.5" fill="none" stroke="#e2bf96" stroke-width="0.7" opacity="0.35"/>
<polyline points="799.8,302.5 796.9,331.6 793.6,359.6" fill="none" stroke="#b4875a" stroke-width="0.7" opacity="0.35"/>
<polyline points="817.8,286.6 814.4,314.7 811.1,341.8" fill="none" stroke="#e2bf96" stroke-width="0.7" opacity="0.35"/>
<polyline points="821.8,297.2 818.5,325.5 815.0,352.6" fill="none" stroke="#b4875a" stroke-width="0.7" opacity="0.35"/>
<polyline points="829.3,199.4 824.7,238.3 820.1,275.4" fill="none" stroke="#e2bf96" stroke-width="0.7" opacity="0.35"/>
<polyline points="807.5,223.8 803.5,261.0 799.6,296.5" fill="none" stroke="#b4875a" stroke-width="0.7" opacity="0.35"/>
<polyline points="816.4,326.5 813.3,353.4 810.0,379.2" fill="none" stroke="#e2bf96" stroke-width="0.7" opacity="0.35"/>
<polyline points="813.3,285.7 809.3,321.5 805.1,355.5" fill="none" stroke="#b4875a" stroke-width="0.7" opacity="0.35"/>
<polyline points="828.6,200.9 826.2,221.5 823.7,241.6" fill="none" stroke="#e2bf96" stroke-width="0.7" opacity="0.35"/>
<polyline points="827.7,235.2 823.8,267.5 820.0,298.6" fill="none" stroke="#b4875a" stroke-width="0.7" opacity="0.35"/>
<polyline points="807.0,224.2 803.4,259.7 799.5,293.5" fill="none" stroke="#e2bf96" stroke-width="0.7" opacity="0.35"/>
<polyline points="825.8,232.6 822.3,263.5 818.5,293.2" fill="none" stroke="#b4875a" stroke-width="0.7" opacity="0.35"/>
<polyline points="822.2,205.6 817.2,248.9 812.4,289.9" fill="none" stroke="#e2bf96" stroke-width="0.7" opacity="0.35"/>
<polyline points="824.2,323.6 822.5,337.9 820.6,351.8" fill="none" stroke="#b4875a" stroke-width="0.7" opacity="0.35"/>
<polygon points="841.6,192.2 879.5,157.5 856.4,343.0 817.0,385.0" fill="#faf4c4" stroke="#2a1d10" stroke-width="1" stroke-linejoin="round" />
<polygon points="817.6,380.2 857.0,338.4 856.4,343.0 817.0,385.0" fill="#e8e8e0" stroke="#2a1d10" stroke-width="0.6" stroke-linejoin="round" />
<polygon points="809.4,184.0 847.0,150.5 879.5,157.5 841.6,192.2" fill="#b98a5c" stroke="#2a1d10" stroke-width="1.1" stroke-linejoin="round" />
<line x1="879.5" y1="157.5" x2="856.4" y2="343.0" stroke="#333" stroke-width="0.9" />
<polygon points="363.0,232.0 369.0,232.0 369.5,331.0 363.0,334.0" fill="#170d0a" />
<polygon points="375.3,241.0 385.7,243.2 385.9,321.0 377.0,327.0" fill="#c8a077" stroke="#2a1d10" stroke-width="0.7" stroke-linejoin="round" />
<polygon points="365.6,230.8 375.3,240.9 377.0,327.0 368.0,325.0" fill="#c79b6e" stroke="#2a1d10" stroke-width="0.9" stroke-linejoin="round" />
<polygon points="375.3,241.0 489.5,264.5 489.5,334.0 377.5,309.0" fill="#c39a6e" />
<polygon points="375.3,241.0 489.5,264.5 489.5,277.9 375.7,254.1" fill="#d7b48b" stroke="#2a1d10" stroke-width="0.8" stroke-linejoin="round" />
<polygon points="385.8,259.3 411.5,264.7 412.6,316.8 387.3,311.2" fill="#d9b78e" stroke="#2a1d10" stroke-width="0.8" stroke-linejoin="round" />
<polyline points="389.2,263.8 408.2,267.8 409.2,312.1 390.5,307.9 389.2,263.8" fill="none" stroke="#ead7ba" stroke-width="0.8" />
<polygon points="469.7,276.9 489.5,281.1 489.5,334.0 470.0,329.6" fill="#d9b78e" stroke="#2a1d10" stroke-width="0.8" stroke-linejoin="round" />
<polyline points="472.6,281.4 486.6,284.3 486.6,329.3 472.8,326.2 472.6,281.4" fill="none" stroke="#ead7ba" stroke-width="0.8" />
<polygon points="411.5,264.7 469.7,276.9 470.0,329.6 412.6,316.8" fill="#000" />
<polygon points="428.8,268.3 452.1,273.2 452.1,279.0 428.9,274.1" fill="#8a8a8a" />
<polygon points="429.7,269.2 435.5,270.4 435.6,275.0 429.8,273.8" fill="#c2c2c2" />
<polygon points="436.2,270.2 444.6,272.0 444.6,276.9 436.3,275.2" fill="#e6e6e6" />
<polygon points="445.3,272.5 451.1,273.7 451.2,278.3 445.3,277.1" fill="#a8a8a8" />
<polygon points="429.3,300.9 452.4,305.9 452.5,311.6 429.4,306.6" fill="#8a8a8a" />
<polygon points="430.3,301.7 436.0,303.0 436.1,307.5 430.3,306.2" fill="#c2c2c2" />
<polygon points="436.7,302.8 445.0,304.6 445.1,309.5 436.8,307.7" fill="#e6e6e6" />
<polygon points="445.7,305.1 451.5,306.4 451.5,310.9 445.8,309.6" fill="#a8a8a8" />
<polygon points="429.5,307.3 452.5,312.4 452.5,318.1 429.5,313.0" fill="#8a8a8a" />
<polygon points="430.4,308.2 436.1,309.4 436.2,313.9 430.5,312.7" fill="#c2c2c2" />
<polygon points="436.8,309.3 445.1,311.1 445.1,315.9 436.9,314.1" fill="#e6e6e6" />
<polygon points="445.8,311.6 451.6,312.8 451.6,317.3 445.8,316.1" fill="#a8a8a8" />
<polygon points="429.6,313.7 452.5,318.8 452.6,324.5 429.7,319.4" fill="#8a8a8a" />
<polygon points="430.5,314.6 436.2,315.9 436.3,320.3 430.6,319.1" fill="#c2c2c2" />
<polygon points="436.9,315.7 445.2,317.5 445.2,322.3 437.0,320.5" fill="#e6e6e6" />
<polygon points="445.9,318.0 451.6,319.3 451.7,323.8 445.9,322.5" fill="#a8a8a8" />
<polygon points="424.7,265.3 456.1,271.9 456.5,312.1 425.4,305.3" fill="#a2a2a2" />
<polygon points="462.8,293.5 462.4,296.9 461.1,300.0 459.1,302.7 456.4,304.8 453.1,306.3 449.3,307.1 445.2,307.2 440.9,306.6 436.6,305.3 432.5,303.4 428.7,301.0 425.4,298.0 422.6,294.8 420.5,291.3 419.2,287.6 418.7,284.1 419.1,280.7 420.3,277.6 422.2,274.9 424.9,272.8 428.2,271.2 432.0,270.4 436.1,270.2 440.4,270.8 444.7,272.0 448.9,273.9 452.7,276.4 456.1,279.4 458.9,282.7 461.0,286.3 462.3,289.9" fill="#a4a4a4" stroke="#333" stroke-width="0.6" stroke-linejoin="round" />
<polygon points="460.7,292.6 460.3,295.8 459.1,298.7 457.3,301.1 454.7,303.1 451.6,304.5 448.1,305.2 444.3,305.3 440.3,304.8 436.3,303.6 432.5,301.8 429.0,299.5 425.9,296.8 423.3,293.8 421.4,290.5 420.2,287.2 419.7,283.8 420.0,280.7 421.1,277.8 423.0,275.3 425.4,273.3 428.5,271.9 432.0,271.1 435.8,271.0 439.8,271.5 443.9,272.6 447.7,274.4 451.3,276.7 454.5,279.5 457.1,282.6 459.0,285.9 460.2,289.3" fill="#d6d6d6" />
<polygon points="459.7,292.9 459.3,295.8 458.3,298.4 456.5,300.7 454.2,302.5 451.3,303.8 448.1,304.5 444.5,304.6 440.9,304.1 437.2,303.0 433.6,301.4 430.4,299.3 427.5,296.7 425.1,293.9 423.3,290.9 422.2,287.8 421.8,284.7 422.1,281.8 423.1,279.2 424.8,276.9 427.1,275.0 429.9,273.7 433.2,273.0 436.7,272.8 440.4,273.3 444.1,274.4 447.7,276.0 451.0,278.2 454.0,280.7 456.4,283.6 458.1,286.6 459.3,289.8" fill="#5c5c5c" />
<polygon points="458.8,292.7 458.4,295.5 457.4,298.0 455.8,300.2 453.5,301.9 450.8,303.1 447.7,303.8 444.3,303.9 440.8,303.4 437.3,302.4 434.0,300.8 430.8,298.8 428.1,296.4 425.8,293.7 424.1,290.8 423.1,287.8 422.7,284.9 423.0,282.1 423.9,279.6 425.5,277.4 427.7,275.7 430.4,274.4 433.5,273.7 436.9,273.6 440.4,274.0 444.0,275.1 447.4,276.6 450.6,278.7 453.3,281.1 455.6,283.8 457.3,286.7 458.4,289.7" fill="#080808" />
<line x1="455.0" y1="296.1" x2="451.0" y2="294.1" stroke="#cfcfcf" stroke-width="0.8" />
<line x1="450.5" y1="300.3" x2="447.8" y2="297.2" stroke="#cfcfcf" stroke-width="0.8" />
<line x1="443.4" y1="301.5" x2="442.7" y2="298.0" stroke="#cfcfcf" stroke-width="0.8" />
<line x1="435.6" y1="299.2" x2="437.0" y2="296.4" stroke="#cfcfcf" stroke-width="0.8" />
<line x1="429.2" y1="294.2" x2="432.3" y2="292.7" stroke="#cfcfcf" stroke-width="0.8" />
<line x1="425.8" y1="287.7" x2="429.9" y2="288.0" stroke="#cfcfcf" stroke-width="0.8" />
<line x1="426.3" y1="281.5" x2="430.3" y2="283.5" stroke="#cfcfcf" stroke-width="0.8" />
<line x1="430.7" y1="277.2" x2="433.5" y2="280.4" stroke="#cfcfcf" stroke-width="0.8" />
<line x1="437.8" y1="276.0" x2="438.6" y2="279.5" stroke="#cfcfcf" stroke-width="0.8" />
<line x1="445.7" y1="278.2" x2="444.3" y2="281.1" stroke="#cfcfcf" stroke-width="0.8" />
<line x1="452.2" y1="283.3" x2="449.0" y2="284.8" stroke="#cfcfcf" stroke-width="0.8" />
<line x1="455.6" y1="289.9" x2="451.5" y2="289.6" stroke="#cfcfcf" stroke-width="0.8" />
<line x1="440.6" y1="288.8" x2="450.0" y2="286.1" stroke="#e6e6e6" stroke-width="1" />
<line x1="440.6" y1="288.8" x2="435.1" y2="282.9" stroke="#e6e6e6" stroke-width="1.1" />
<polygon points="462.1,291.0 466.5,292.0 466.6,296.7 462.1,295.7" fill="#d2d2d2" stroke="#444" stroke-width="0.4" stroke-linejoin="round" />
<polygon points="489.5,266.0 500.0,268.8 500.0,366.3 489.5,365.0" fill="#c89d70" stroke="#2a1d10" stroke-width="0.9" stroke-linejoin="round" />
<polygon points="500.0,268.8 550.7,234.5 550.7,327.0 500.0,366.3" fill="#cfa679" stroke="#2a1d10" stroke-width="0.9" stroke-linejoin="round" />
<polygon points="500.6,287.7 550.4,253.8 550.4,326.4 500.6,348.0" fill="#000" />
<polygon points="514.1,278.5 532.9,265.7 532.9,270.9 514.1,283.3" fill="#8a8a8a" />
<polygon points="514.8,278.6 519.3,275.5 519.3,279.4 514.8,282.4" fill="#c2c2c2" />
<polygon points="519.9,274.9 526.6,270.3 526.6,274.6 519.9,279.1" fill="#e6e6e6" />
<polygon points="527.2,270.2 532.1,266.8 532.1,271.0 527.2,274.2" fill="#a8a8a8" />
<polygon points="514.1,284.0 532.9,271.6 532.9,276.8 514.1,288.8" fill="#8a8a8a" />
<polygon points="514.8,284.1 519.3,281.1 519.3,285.1 514.8,287.9" fill="#c2c2c2" />
<polygon points="519.9,280.5 526.6,276.0 526.6,280.4 519.9,284.7" fill="#e6e6e6" />
<polygon points="527.2,275.9 532.1,272.7 532.1,276.8 527.2,280.0" fill="#a8a8a8" />
<polygon points="514.1,317.0 532.9,307.0 532.9,312.2 514.1,321.8" fill="#8a8a8a" />
<polygon points="514.8,317.1 519.3,314.8 519.3,318.7 514.8,321.0" fill="#c2c2c2" />
<polygon points="519.9,314.2 526.6,310.6 526.6,314.9 519.9,318.4" fill="#e6e6e6" />
<polygon points="527.2,310.6 532.1,308.0 532.1,312.1 527.2,314.6" fill="#a8a8a8" />
<polygon points="514.1,322.5 532.9,312.9 532.9,318.1 514.1,327.3" fill="#8a8a8a" />
<polygon points="514.8,322.7 519.3,320.4 519.3,324.3 514.8,326.5" fill="#c2c2c2" />
<polygon points="519.9,319.8 526.6,316.4 526.6,320.7 519.9,324.0" fill="#e6e6e6" />
<polygon points="527.2,316.4 532.1,313.9 532.1,318.0 527.2,320.4" fill="#a8a8a8" />
<polygon points="514.1,328.0 532.9,318.8 532.9,324.0 514.1,332.8" fill="#8a8a8a" />
<polygon points="514.8,328.2 519.3,326.0 519.3,329.9 514.8,332.0" fill="#c2c2c2" />
<polygon points="519.9,325.4 526.6,322.1 526.6,326.5 519.9,329.7" fill="#e6e6e6" />
<polygon points="527.2,322.1 532.1,319.8 532.1,323.9 527.2,326.2" fill="#a8a8a8" />
<polygon points="514.1,333.5 532.9,324.7 532.9,329.9 514.1,338.3" fill="#8a8a8a" />
<polygon points="514.8,333.7 519.3,331.6 519.3,335.5 514.8,337.5" fill="#c2c2c2" />
<polygon points="519.9,331.1 526.6,327.9 526.6,332.2 519.9,335.3" fill="#e6e6e6" />
<polygon points="527.2,327.9 532.1,325.6 532.1,329.8 527.2,332.0" fill="#a8a8a8" />
<polygon points="511.1,284.6 536.5,267.7 536.5,314.2 511.1,326.8" fill="#a2a2a2" />
<polygon points="542.8,287.3 542.4,291.6 541.2,296.3 539.3,300.9 536.8,305.5 533.7,309.6 530.4,313.2 526.8,316.2 523.2,318.4 519.7,319.8 516.4,320.4 513.4,320.2 510.9,319.2 508.8,317.4 507.3,315.0 506.4,312.1 506.1,308.6 506.4,304.8 507.3,300.8 508.8,296.6 510.9,292.5 513.4,288.5 516.4,284.8 519.7,281.6 523.2,278.9 526.8,276.9 530.4,275.7 533.7,275.4 536.8,276.1 539.3,277.7 541.2,280.1 542.4,283.4" fill="#a4a4a4" stroke="#333" stroke-width="0.6" stroke-linejoin="round" />
<polygon points="540.8,287.9 540.5,291.9 539.4,296.2 537.6,300.5 535.3,304.7 532.5,308.6 529.4,311.9 526.1,314.7 522.7,316.8 519.5,318.1 516.4,318.7 513.7,318.5 511.3,317.5 509.4,315.9 508.0,313.7 507.1,310.9 506.8,307.7 507.1,304.2 508.0,300.4 509.4,296.6 511.3,292.7 513.7,289.0 516.4,285.6 519.5,282.6 522.7,280.1 526.1,278.3 529.4,277.2 532.5,276.9 535.3,277.5 537.6,279.0 539.4,281.3 540.5,284.3" fill="#d6d6d6" />
<polygon points="539.9,289.0 539.5,292.7 538.5,296.6 536.9,300.6 534.8,304.5 532.2,308.0 529.3,311.2 526.3,313.7 523.2,315.7 520.2,316.9 517.3,317.4 514.7,317.3 512.5,316.4 510.7,314.9 509.4,312.9 508.6,310.3 508.4,307.3 508.6,304.0 509.4,300.5 510.7,296.9 512.5,293.3 514.7,289.9 517.3,286.7 520.2,284.0 523.2,281.7 526.3,280.0 529.3,279.0 532.2,278.8 534.8,279.4 536.9,280.7 538.5,282.9 539.5,285.6" fill="#5c5c5c" />
<polygon points="539.1,289.4 538.7,293.0 537.8,296.7 536.3,300.5 534.2,304.2 531.8,307.6 529.1,310.6 526.2,313.0 523.2,314.9 520.3,316.1 517.6,316.6 515.1,316.4 513.0,315.6 511.3,314.2 510.0,312.2 509.3,309.8 509.0,306.9 509.3,303.8 510.0,300.4 511.3,297.0 513.0,293.6 515.1,290.3 517.6,287.3 520.3,284.6 523.2,282.5 526.2,280.9 529.1,280.0 531.8,279.8 534.2,280.3 536.3,281.6 537.8,283.6 538.7,286.3" fill="#080808" />
<line x1="535.6" y1="296.4" x2="532.1" y2="297.0" stroke="#cfcfcf" stroke-width="0.8" />
<line x1="531.5" y1="304.6" x2="529.2" y2="302.9" stroke="#cfcfcf" stroke-width="0.8" />
<line x1="525.4" y1="310.9" x2="524.8" y2="307.5" stroke="#cfcfcf" stroke-width="0.8" />
<line x1="518.9" y1="313.8" x2="520.1" y2="309.6" stroke="#cfcfcf" stroke-width="0.8" />
<line x1="513.9" y1="312.5" x2="516.4" y2="308.8" stroke="#cfcfcf" stroke-width="0.8" />
<line x1="511.3" y1="307.8" x2="514.5" y2="305.4" stroke="#cfcfcf" stroke-width="0.8" />
<line x1="511.9" y1="300.8" x2="514.9" y2="300.2" stroke="#cfcfcf" stroke-width="0.8" />
<line x1="515.3" y1="293.1" x2="517.5" y2="294.6" stroke="#cfcfcf" stroke-width="0.8" />
<line x1="521.0" y1="286.6" x2="521.6" y2="289.9" stroke="#cfcfcf" stroke-width="0.8" />
<line x1="527.6" y1="283.1" x2="526.4" y2="287.4" stroke="#cfcfcf" stroke-width="0.8" />
<line x1="533.2" y1="283.8" x2="530.4" y2="288.0" stroke="#cfcfcf" stroke-width="0.8" />
<line x1="536.2" y1="288.6" x2="532.5" y2="291.5" stroke="#cfcfcf" stroke-width="0.8" />
<line x1="523.2" y1="298.7" x2="531.2" y2="288.7" stroke="#e6e6e6" stroke-width="1" />
<line x1="523.2" y1="298.7" x2="518.7" y2="296.2" stroke="#e6e6e6" stroke-width="1.1" />
<polygon points="542.2,284.9 546.4,282.4 546.4,287.9 542.2,290.4" fill="#d2d2d2" stroke="#444" stroke-width="0.4" stroke-linejoin="round" />
<line x1="500.0" y1="276.6" x2="550.7" y2="242.8" stroke="#7a5a38" stroke-width="0.6" />
<polygon points="489.5,266.0 500.0,268.8 550.7,234.5 541.0,232.0" fill="#c9a074" stroke="#2a1d10" stroke-width="0.8" stroke-linejoin="round" />
<polygon points="373.8,219.6 426.8,189.2 427.5,206.0 375.2,240.9" fill="#ffffff" opacity="0.55"/>
<polygon points="426.8,189.2 539.8,217.0 539.8,230.7 427.5,206.0" fill="#ffffff" opacity="0.45"/>
<polygon points="375.2,240.9 427.5,206.0 539.8,230.7 489.6,264.3" fill="url(#g44)" />
<polygon points="373.8,219.6 489.6,251.0 489.6,264.3 375.2,240.9" fill="#f0e2cc" opacity="0.85"/>
<polygon points="489.6,251.0 539.8,217.0 539.8,230.7 489.6,264.3" fill="#efe0c8" opacity="0.8"/>
<polyline points="373.8,219.6 426.8,189.2 539.8,217.0 489.6,251.0 373.8,219.6" fill="none" stroke="#111" stroke-width="1.5" />
<polyline points="375.2,240.9 489.6,264.3 539.8,230.7" fill="none" stroke="#111" stroke-width="1.5" />
<polyline points="373.8,219.6 375.2,240.9" fill="none" stroke="#111" stroke-width="1.5" />
<polyline points="489.6,251.0 489.6,264.3" fill="none" stroke="#111" stroke-width="1.5" />
<polyline points="539.8,217.0 539.8,230.7" fill="none" stroke="#111" stroke-width="1.5" />
<polyline points="375.2,240.9 427.5,206.0 539.8,230.7" fill="none" stroke="#333" stroke-width="0.8" />
<line x1="426.8" y1="189.2" x2="427.5" y2="206.0" stroke="#333" stroke-width="0.8" />
<polygon points="572.4,343.5 620.2,302.8 620.2,324.3 572.4,366.0" fill="url(#g45)" />
<polygon points="572.4,366.0 620.2,324.3 676.3,341.0 630.0,383.0" fill="url(#g46)" />
<polygon points="620.2,302.8 676.3,319.5 676.3,341.0 620.2,324.3" fill="url(#g47)" stroke="#2a1d10" stroke-width="0.9" stroke-linejoin="round" />
<line x1="620.2" y1="324.3" x2="572.4" y2="366.0" stroke="#7a6246" stroke-width="0.6" />
<polygon points="630.0,360.5 676.3,319.5 676.3,338.5 630.0,380.5" fill="#f3ece2" stroke="#2a1d10" stroke-width="0.8" stroke-linejoin="round" fill-opacity="0.55"/>
<polygon points="630.0,380.5 676.3,338.5 677.0,412.0 630.0,455.0" fill="#c9a174" stroke="#2a1d10" stroke-width="0.8" stroke-linejoin="round" />
<line x1="630.0" y1="393.0" x2="676.3" y2="350.0" stroke="#2a1d10" stroke-width="0.9" />
<line x1="630.5" y1="391.8" x2="630.5" y2="383.0" stroke="#fff" stroke-width="1.2" />
<line x1="654.5" y1="370.2" x2="654.9" y2="432.2" stroke="#2a1d10" stroke-width="0.8" />
<path d="M652.1,365.4 L657.3,363.8 L654.3,361.9" fill="none" stroke="#1c130a" stroke-width="1.4" stroke-linejoin="round"/>
<path d="M653.8,373.8 L653.4,378.2 L651.8,379.2 L652.0,376.8" fill="none" stroke="#1c130a" stroke-width="1.3" stroke-linejoin="round"/>
<path d="M657.3,369.7 L659.0,373.4 L656.4,375.3 L656.2,373.1" fill="none" stroke="#1c130a" stroke-width="1.3" stroke-linejoin="round"/>
<polyline points="572.4,343.5 620.2,302.8" fill="none" stroke="#222" stroke-width="1.9" />
<polyline points="575.0,344.9 622.8,304.2" fill="none" stroke="#555" stroke-width="0.7" />
<polyline points="630.0,360.5 676.3,319.5" fill="none" stroke="#222" stroke-width="1.7" />
<line x1="620.2" y1="302.8" x2="676.3" y2="319.5" stroke="#2a1d10" stroke-width="2.5" />
<polygon points="519.6,388.0 572.4,343.5 572.4,366.0 519.6,412.0" fill="url(#g48)" />
<polygon points="519.6,412.0 572.4,366.0 630.0,383.0 578.5,430.2" fill="url(#g49)" />
<polygon points="572.4,343.5 630.0,360.5 630.0,383.0 572.4,366.0" fill="url(#g50)" stroke="#2a1d10" stroke-width="0.9" stroke-linejoin="round" />
<line x1="572.4" y1="366.0" x2="519.6" y2="412.0" stroke="#7a6246" stroke-width="0.6" />
<polygon points="578.5,406.2 630.0,360.5 630.0,380.5 578.5,427.2" fill="#f3ece2" stroke="#2a1d10" stroke-width="0.8" stroke-linejoin="round" fill-opacity="0.55"/>
<polygon points="578.5,427.2 630.0,380.5 630.0,455.0 577.5,502.5" fill="#c9a174" stroke="#2a1d10" stroke-width="0.8" stroke-linejoin="round" />
<line x1="578.5" y1="439.7" x2="630.0" y2="392.0" stroke="#2a1d10" stroke-width="0.9" />
<line x1="579.0" y1="438.5" x2="579.0" y2="429.7" stroke="#fff" stroke-width="1.2" />
<line x1="605.8" y1="414.4" x2="605.3" y2="477.3" stroke="#2a1d10" stroke-width="0.8" />
<path d="M603.2,409.4 L608.7,407.6 L605.5,405.6" fill="none" stroke="#1c130a" stroke-width="1.4" stroke-linejoin="round"/>
<path d="M605.0,418.2 L604.6,422.9 L602.9,424.0 L603.1,421.4" fill="none" stroke="#1c130a" stroke-width="1.3" stroke-linejoin="round"/>
<path d="M608.7,413.9 L610.5,417.8 L607.8,419.8 L607.6,417.5" fill="none" stroke="#1c130a" stroke-width="1.3" stroke-linejoin="round"/>
<polyline points="519.6,388.0 572.4,343.5" fill="none" stroke="#222" stroke-width="1.9" />
<polyline points="522.2,389.4 575.0,344.9" fill="none" stroke="#555" stroke-width="0.7" />
<polyline points="578.5,406.2 630.0,360.5" fill="none" stroke="#222" stroke-width="1.7" />
<line x1="572.4" y1="343.5" x2="630.0" y2="360.5" stroke="#2a1d10" stroke-width="2.5" />
<polygon points="461.2,435.0 519.6,388.0 519.6,412.0 461.2,461.0" fill="url(#g51)" />
<polygon points="461.2,461.0 519.6,412.0 578.5,430.2 521.5,481.6" fill="url(#g52)" />
<polygon points="519.6,388.0 578.5,406.2 578.5,430.2 519.6,412.0" fill="url(#g53)" stroke="#2a1d10" stroke-width="0.9" stroke-linejoin="round" />
<line x1="519.6" y1="412.0" x2="461.2" y2="461.0" stroke="#7a6246" stroke-width="0.6" />
<polygon points="521.5,455.6 578.5,406.2 578.5,427.2 521.5,478.1" fill="#f3ece2" stroke="#2a1d10" stroke-width="0.8" stroke-linejoin="round" fill-opacity="0.55"/>
<polygon points="521.5,478.1 578.5,427.2 577.5,502.5 520.5,556.2" fill="#c9a174" stroke="#2a1d10" stroke-width="0.8" stroke-linejoin="round" />
<line x1="521.5" y1="490.6" x2="578.5" y2="438.7" stroke="#2a1d10" stroke-width="0.9" />
<line x1="522.0" y1="489.4" x2="522.0" y2="480.6" stroke="#fff" stroke-width="1.2" />
<line x1="551.7" y1="463.1" x2="550.7" y2="527.7" stroke="#2a1d10" stroke-width="0.8" />
<path d="M549.0,457.8 L554.8,455.9 L551.4,453.8" fill="none" stroke="#1c130a" stroke-width="1.4" stroke-linejoin="round"/>
<path d="M550.9,467.1 L550.5,472.0 L548.7,473.2 L548.9,470.5" fill="none" stroke="#1c130a" stroke-width="1.3" stroke-linejoin="round"/>
<path d="M554.8,462.5 L556.7,466.7 L553.8,468.8 L553.6,466.3" fill="none" stroke="#1c130a" stroke-width="1.3" stroke-linejoin="round"/>
<polyline points="461.2,435.0 519.6,388.0" fill="none" stroke="#222" stroke-width="1.9" />
<polyline points="463.8,436.4 522.2,389.4" fill="none" stroke="#555" stroke-width="0.7" />
<polyline points="521.5,455.6 578.5,406.2" fill="none" stroke="#222" stroke-width="1.7" />
<line x1="519.6" y1="388.0" x2="578.5" y2="406.2" stroke="#2a1d10" stroke-width="2.5" />
<polygon points="396.4,488.5 461.2,435.0 461.2,461.0 396.4,515.5" fill="url(#g54)" />
<polygon points="396.4,515.5 461.2,461.0 521.5,481.6 459.9,538.5" fill="url(#g55)" />
<polygon points="461.2,435.0 521.5,455.6 521.5,481.6 461.2,461.0" fill="url(#g56)" stroke="#2a1d10" stroke-width="0.9" stroke-linejoin="round" />
<line x1="461.2" y1="461.0" x2="396.4" y2="515.5" stroke="#7a6246" stroke-width="0.6" />
<polygon points="459.9,511.5 521.5,455.6 521.5,478.1 459.9,535.0" fill="#f3ece2" stroke="#2a1d10" stroke-width="0.8" stroke-linejoin="round" fill-opacity="0.55"/>
<polygon points="459.9,535.0 521.5,478.1 520.5,556.2 460.3,613.5" fill="#c9a174" stroke="#2a1d10" stroke-width="0.8" stroke-linejoin="round" />
<line x1="459.9" y1="547.5" x2="521.5" y2="489.6" stroke="#2a1d10" stroke-width="0.9" />
<line x1="460.4" y1="546.3" x2="460.4" y2="537.5" stroke="#fff" stroke-width="1.2" />
<line x1="492.5" y1="516.8" x2="492.2" y2="583.1" stroke="#2a1d10" stroke-width="0.8" />
<path d="M489.6,511.2 L495.7,509.2 L492.2,507.0" fill="none" stroke="#1c130a" stroke-width="1.4" stroke-linejoin="round"/>
<path d="M491.6,521.0 L491.2,526.2 L489.3,527.4 L489.5,524.6" fill="none" stroke="#1c130a" stroke-width="1.3" stroke-linejoin="round"/>
<path d="M495.7,516.2 L497.7,520.6 L494.7,522.8 L494.5,520.2" fill="none" stroke="#1c130a" stroke-width="1.3" stroke-linejoin="round"/>
<polyline points="396.4,488.5 461.2,435.0" fill="none" stroke="#222" stroke-width="1.9" />
<polyline points="399.0,489.9 463.8,436.4" fill="none" stroke="#555" stroke-width="0.7" />
<polyline points="459.9,511.5 521.5,455.6" fill="none" stroke="#222" stroke-width="1.7" />
<line x1="461.2" y1="435.0" x2="521.5" y2="455.6" stroke="#2a1d10" stroke-width="2.5" />
<polygon points="394.0,514.5 396.5,515.5 396.5,590.5 394.0,589.5" fill="#a88258" stroke="#2a1d10" stroke-width="0.6" stroke-linejoin="round" />
<polygon points="396.4,488.5 459.9,511.5 460.3,613.5 396.5,591.0" fill="url(#g57)" stroke="#2a1d10" stroke-width="1" stroke-linejoin="round" />
<polyline points="448.8,576.5 449.0,591.1 448.9,605.6" fill="none" stroke="#e2bf96" stroke-width="0.7" opacity="0.35"/>
<polyline points="409.9,561.0 410.4,572.1 409.9,582.9" fill="none" stroke="#b4875a" stroke-width="0.7" opacity="0.35"/>
<polyline points="405.5,529.2 405.6,551.6 405.6,573.9" fill="none" stroke="#e2bf96" stroke-width="0.7" opacity="0.35"/>
<polyline points="448.7,543.6 449.3,565.1 448.8,586.1" fill="none" stroke="#b4875a" stroke-width="0.7" opacity="0.35"/>
<polyline points="411.3,558.1 411.3,573.3 411.3,588.4" fill="none" stroke="#e2bf96" stroke-width="0.7" opacity="0.35"/>
<polyline points="396.7,523.8 396.9,538.4 396.7,553.0" fill="none" stroke="#b4875a" stroke-width="0.7" opacity="0.35"/>
<polyline points="405.4,516.3 406.1,529.1 405.4,541.4" fill="none" stroke="#e2bf96" stroke-width="0.7" opacity="0.35"/>
<polyline points="396.6,542.3 396.7,562.9 396.6,583.5" fill="none" stroke="#b4875a" stroke-width="0.7" opacity="0.35"/>
<polyline points="455.4,560.6 455.7,582.2 455.6,603.6" fill="none" stroke="#e2bf96" stroke-width="0.7" opacity="0.35"/>
<polyline points="420.2,525.1 420.7,548.3 420.3,571.1" fill="none" stroke="#b4875a" stroke-width="0.7" opacity="0.35"/>
<polyline points="419.5,527.4 419.5,539.3 419.5,551.2" fill="none" stroke="#e2bf96" stroke-width="0.7" opacity="0.35"/>
<polyline points="403.0,550.6 403.7,562.9 403.0,574.8" fill="none" stroke="#b4875a" stroke-width="0.7" opacity="0.35"/>
<polyline points="412.3,513.2 412.5,528.8 412.4,544.2" fill="none" stroke="#e2bf96" stroke-width="0.7" opacity="0.35"/>
<polyline points="420.3,565.5 421.0,582.7 420.4,599.4" fill="none" stroke="#b4875a" stroke-width="0.7" opacity="0.35"/>
<polyline points="436.7,568.3 437.2,586.9 436.8,605.2" fill="none" stroke="#e2bf96" stroke-width="0.7" opacity="0.35"/>
<polyline points="442.2,508.6 442.6,527.5 442.3,546.3" fill="none" stroke="#b4875a" stroke-width="0.7" opacity="0.35"/>
<polyline points="444.4,551.8 444.5,563.8 444.5,575.9" fill="none" stroke="#e2bf96" stroke-width="0.7" opacity="0.35"/>
<polyline points="455.3,518.9 455.6,533.8 455.4,548.6" fill="none" stroke="#b4875a" stroke-width="0.7" opacity="0.35"/>
<polyline points="415.5,548.2 415.7,571.0 415.6,593.6" fill="none" stroke="#e2bf96" stroke-width="0.7" opacity="0.35"/>
<polyline points="438.2,525.1 438.6,541.3 438.3,557.4" fill="none" stroke="#b4875a" stroke-width="0.7" opacity="0.35"/>
<polyline points="407.1,503.9 407.8,515.0 407.1,525.6" fill="none" stroke="#e2bf96" stroke-width="0.7" opacity="0.35"/>
<polyline points="428.1,515.7 428.9,537.4 428.2,558.7" fill="none" stroke="#b4875a" stroke-width="0.7" opacity="0.35"/>
<polyline points="425.1,508.8 425.2,519.4 425.1,530.0" fill="none" stroke="#e2bf96" stroke-width="0.7" opacity="0.35"/>
<polyline points="418.2,502.9 418.4,514.3 418.3,525.5" fill="none" stroke="#b4875a" stroke-width="0.7" opacity="0.35"/>
<polyline points="432.8,565.0 433.2,584.3 432.9,603.4" fill="none" stroke="#e2bf96" stroke-width="0.7" opacity="0.35"/>
<polyline points="422.9,535.5 423.1,549.0 422.9,562.4" fill="none" stroke="#b4875a" stroke-width="0.7" opacity="0.35"/>
<polyline points="400.4,509.8 400.5,532.3 400.4,554.8" fill="none" stroke="#e2bf96" stroke-width="0.7" opacity="0.35"/>
<polyline points="428.6,545.1 428.8,566.0 428.7,586.9" fill="none" stroke="#b4875a" stroke-width="0.7" opacity="0.35"/>
<polyline points="413.7,512.5 414.1,526.4 413.8,540.1" fill="none" stroke="#e2bf96" stroke-width="0.7" opacity="0.35"/>
<polyline points="457.2,570.9 457.3,591.7 457.4,612.5" fill="none" stroke="#b4875a" stroke-width="0.7" opacity="0.35"/>
<polyline points="398.5,540.0 398.9,561.6 398.6,583.0" fill="none" stroke="#e2bf96" stroke-width="0.7" opacity="0.35"/>
<polyline points="433.8,502.1 434.5,515.9 433.9,529.3" fill="none" stroke="#b4875a" stroke-width="0.7" opacity="0.35"/>
<polyline points="449.1,568.5 449.3,589.1 449.2,609.6" fill="none" stroke="#e2bf96" stroke-width="0.7" opacity="0.35"/>
<polyline points="403.4,502.0 403.9,517.9 403.4,533.4" fill="none" stroke="#b4875a" stroke-width="0.7" opacity="0.35"/>
<polyline points="456.4,561.6 457.0,579.4 456.5,596.8" fill="none" stroke="#e2bf96" stroke-width="0.7" opacity="0.35"/>
<polyline points="425.6,538.4 426.2,546.9 425.7,555.0" fill="none" stroke="#b4875a" stroke-width="0.7" opacity="0.35"/>
<polyline points="411.3,559.7 411.6,577.4 411.4,595.0" fill="none" stroke="#e2bf96" stroke-width="0.7" opacity="0.35"/>
<polyline points="404.6,509.4 405.2,527.1 404.6,544.3" fill="none" stroke="#b4875a" stroke-width="0.7" opacity="0.35"/>
<polyline points="403.6,496.1 404.0,512.0 403.6,527.5" fill="none" stroke="#e2bf96" stroke-width="0.7" opacity="0.35"/>
<polyline points="421.2,513.4 421.2,530.3 421.2,547.1" fill="none" stroke="#b4875a" stroke-width="0.7" opacity="0.35"/>
<line x1="396.4" y1="488.5" x2="459.9" y2="511.5" stroke="#222" stroke-width="1.3" />
<polygon points="581.8,429.8 644.3,372.0 638.6,487.2 574.3,552.6" fill="#050303" />
<polygon points="628.7,386.5 644.3,372.0 638.6,487.2 622.5,503.6" fill="url(#g58)" />
<polygon points="602.5,410.7 626.2,388.7 625.8,396.2 602.1,418.3" fill="#8a8a8a" />
<polygon points="603.4,410.6 609.4,405.1 609.1,411.1 603.1,416.7" fill="#c2c2c2" />
<polygon points="610.2,404.0 618.7,396.1 618.4,402.5 609.8,410.4" fill="#e6e6e6" />
<polygon points="619.4,395.8 625.2,390.4 624.9,396.4 619.1,401.8" fill="#a8a8a8" />
<polygon points="602.0,419.3 625.8,397.2 625.4,404.7 601.6,427.0" fill="#8a8a8a" />
<polygon points="602.9,419.3 608.9,413.7 608.6,419.8 602.6,425.4" fill="#c2c2c2" />
<polygon points="609.7,412.6 618.2,404.6 617.9,411.1 609.3,419.1" fill="#e6e6e6" />
<polygon points="618.9,404.4 624.8,398.9 624.5,404.9 618.6,410.4" fill="#a8a8a8" />
<polygon points="601.5,428.1 625.3,405.7 624.9,413.2 601.1,435.8" fill="#8a8a8a" />
<polygon points="602.4,428.0 608.5,422.4 608.1,428.4 602.1,434.1" fill="#c2c2c2" />
<polygon points="609.2,421.3 617.8,413.2 617.4,419.7 608.8,427.8" fill="#e6e6e6" />
<polygon points="618.5,413.0 624.3,407.5 624.0,413.4 618.1,419.0" fill="#a8a8a8" />
<polygon points="601.0,436.8 624.9,414.3 624.5,421.8 600.6,444.5" fill="#8a8a8a" />
<polygon points="601.9,436.8 608.0,431.1 607.6,437.2 601.6,442.9" fill="#c2c2c2" />
<polygon points="608.7,429.9 617.3,421.8 617.0,428.3 608.4,436.5" fill="#e6e6e6" />
<polygon points="618.0,421.6 623.9,416.0 623.6,422.0 617.7,427.6" fill="#a8a8a8" />
<polygon points="597.5,498.9 621.7,474.9 621.3,482.6 597.0,506.8" fill="#8a8a8a" />
<polygon points="598.4,498.8 604.5,492.7 604.2,499.0 598.0,505.1" fill="#c2c2c2" />
<polygon points="605.3,491.6 614.0,482.9 613.6,489.5 604.9,498.3" fill="#e6e6e6" />
<polygon points="614.7,482.6 620.7,476.7 620.3,482.9 614.4,488.8" fill="#a8a8a8" />
<polygon points="596.9,507.9 621.2,483.7 620.8,491.4 596.5,515.9" fill="#8a8a8a" />
<polygon points="597.9,507.8 604.0,501.7 603.7,507.9 597.5,514.1" fill="#c2c2c2" />
<polygon points="604.8,500.5 613.5,491.8 613.2,498.4 604.4,507.2" fill="#e6e6e6" />
<polygon points="614.2,491.5 620.2,485.5 619.9,491.7 613.9,497.7" fill="#a8a8a8" />
<polygon points="596.4,516.9 620.7,492.5 620.3,500.2 596.0,524.9" fill="#8a8a8a" />
<polygon points="597.4,516.8 603.5,510.6 603.2,516.9 597.0,523.2" fill="#c2c2c2" />
<polygon points="604.3,509.5 613.0,500.6 612.7,507.3 603.9,516.2" fill="#e6e6e6" />
<polygon points="613.7,500.4 619.7,494.3 619.4,500.5 613.4,506.6" fill="#a8a8a8" />
<polygon points="597.1,434.1 629.3,403.9 625.3,479.8 592.6,512.6" fill="#a2a2a2" />
<polygon points="634.9,434.3 634.1,441.3 632.5,448.9 630.0,456.9 626.8,464.9 623.0,472.7 618.7,480.0 614.1,486.4 609.4,491.8 604.7,495.8 600.2,498.4 596.1,499.4 592.6,498.7 589.8,496.4 587.9,492.6 586.9,487.3 586.8,480.9 587.7,473.6 589.5,465.6 592.1,457.4 595.5,449.2 599.5,441.3 603.9,434.2 608.5,428.0 613.2,422.9 617.8,419.2 622.1,416.9 626.0,416.2 629.3,417.0 631.9,419.4 633.8,423.1 634.8,428.1" fill="#a4a4a4" stroke="#333" stroke-width="0.6" stroke-linejoin="round" />
<polygon points="632.7,435.5 632.0,442.1 630.5,449.2 628.2,456.6 625.2,464.1 621.7,471.4 617.7,478.1 613.4,484.1 609.0,489.1 604.6,492.8 600.4,495.2 596.6,496.1 593.4,495.5 590.8,493.3 589.0,489.8 588.0,484.9 588.0,478.9 588.8,472.1 590.5,464.7 592.9,457.1 596.1,449.5 599.7,442.2 603.8,435.5 608.1,429.7 612.5,425.0 616.8,421.5 620.8,419.4 624.4,418.7 627.5,419.5 630.0,421.7 631.7,425.2 632.6,429.8" fill="#d6d6d6" />
<polygon points="631.6,437.4 631.0,443.4 629.5,450.0 627.4,456.9 624.7,463.8 621.4,470.5 617.7,476.8 613.8,482.3 609.7,486.9 605.6,490.4 601.8,492.6 598.3,493.4 595.3,492.8 592.9,490.8 591.2,487.5 590.3,483.0 590.3,477.5 591.0,471.2 592.6,464.4 594.8,457.3 597.7,450.3 601.1,443.6 604.9,437.4 608.9,432.0 612.9,427.7 616.9,424.5 620.6,422.5 624.0,421.9 626.8,422.6 629.1,424.6 630.7,427.8 631.5,432.1" fill="#5c5c5c" />
<polygon points="630.7,438.3 630.1,444.1 628.7,450.3 626.7,456.9 624.1,463.5 620.9,469.9 617.4,475.9 613.6,481.1 609.7,485.5 605.9,488.8 602.2,490.9 598.9,491.7 596.0,491.1 593.8,489.2 592.2,486.1 591.3,481.8 591.3,476.5 592.0,470.6 593.5,464.1 595.6,457.3 598.4,450.6 601.6,444.2 605.2,438.3 609.0,433.2 612.9,429.0 616.6,426.0 620.2,424.1 623.4,423.5 626.1,424.1 628.3,426.0 629.8,429.1 630.6,433.3" fill="#080808" />
<line x1="626.3" y1="450.2" x2="622.2" y2="452.1" stroke="#cfcfcf" stroke-width="0.8" />
<line x1="620.9" y1="465.0" x2="618.3" y2="462.8" stroke="#cfcfcf" stroke-width="0.8" />
<line x1="612.9" y1="477.8" x2="612.5" y2="472.1" stroke="#cfcfcf" stroke-width="0.8" />
<line x1="604.3" y1="485.2" x2="606.3" y2="477.4" stroke="#cfcfcf" stroke-width="0.8" />
<line x1="597.6" y1="485.1" x2="601.4" y2="477.3" stroke="#cfcfcf" stroke-width="0.8" />
<line x1="594.5" y1="477.3" x2="599.2" y2="471.7" stroke="#cfcfcf" stroke-width="0.8" />
<line x1="596.0" y1="464.2" x2="600.3" y2="462.2" stroke="#cfcfcf" stroke-width="0.8" />
<line x1="601.6" y1="449.2" x2="604.3" y2="451.4" stroke="#cfcfcf" stroke-width="0.8" />
<line x1="609.7" y1="436.5" x2="610.2" y2="442.2" stroke="#cfcfcf" stroke-width="0.8" />
<line x1="618.2" y1="429.5" x2="616.3" y2="437.1" stroke="#cfcfcf" stroke-width="0.8" />
<line x1="624.7" y1="429.9" x2="621.0" y2="437.3" stroke="#cfcfcf" stroke-width="0.8" />
<line x1="627.6" y1="437.4" x2="623.2" y2="442.8" stroke="#cfcfcf" stroke-width="0.8" />
<line x1="611.3" y1="457.1" x2="621.9" y2="438.4" stroke="#e6e6e6" stroke-width="1" />
<line x1="611.3" y1="457.1" x2="605.8" y2="453.9" stroke="#e6e6e6" stroke-width="1.1" />
<polygon points="634.4,430.6 639.0,426.1 638.6,434.8 634.0,439.3" fill="#d2d2d2" stroke="#444" stroke-width="0.4" stroke-linejoin="round" />
<line x1="581.8" y1="429.8" x2="574.3" y2="552.6" stroke="#2a2a2a" stroke-width="1.6" />
<polygon points="644.3,372.0 697.7,322.6 689.0,436.7 638.6,487.2" fill="url(#g59)" />
<line x1="644.3" y1="372.0" x2="638.6" y2="487.2" stroke="#2a2a2a" stroke-width="1.6" />
<polygon points="697.7,322.6 749.3,274.8 739.0,385.0 689.0,436.7" fill="#050303" />
<polygon points="736.4,286.7 749.3,274.8 739.0,385.0 726.5,397.9" fill="url(#g60)" />
<polygon points="711.7,309.7 731.4,291.4 730.7,299.0 711.0,317.4" fill="#8a8a8a" />
<polygon points="712.4,309.8 717.4,305.2 716.9,311.3 711.9,315.9" fill="#c2c2c2" />
<polygon points="718.0,304.2 725.1,297.6 724.6,304.1 717.5,310.7" fill="#e6e6e6" />
<polygon points="725.7,297.5 730.5,293.0 730.0,299.1 725.1,303.6" fill="#a8a8a8" />
<polygon points="711.0,318.4 730.6,300.1 729.9,307.6 710.3,326.1" fill="#8a8a8a" />
<polygon points="711.7,318.6 716.7,313.9 716.2,320.0 711.2,324.7" fill="#c2c2c2" />
<polygon points="717.3,312.9 724.4,306.3 723.8,312.8 716.8,319.4" fill="#e6e6e6" />
<polygon points="724.9,306.2 729.8,301.6 729.2,307.7 724.4,312.2" fill="#a8a8a8" />
<polygon points="710.2,327.2 729.9,308.7 729.2,316.2 709.6,334.8" fill="#8a8a8a" />
<polygon points="711.0,327.3 715.9,322.6 715.4,328.6 710.5,333.3" fill="#c2c2c2" />
<polygon points="716.6,321.6 723.6,314.9 723.1,321.4 716.0,328.1" fill="#e6e6e6" />
<polygon points="724.2,314.8 729.0,310.2 728.5,316.2 723.7,320.8" fill="#a8a8a8" />
<polygon points="706.1,378.3 725.4,359.1 724.8,366.4 705.5,385.6" fill="#8a8a8a" />
<polygon points="706.8,378.3 711.7,373.5 711.2,379.3 706.4,384.2" fill="#c2c2c2" />
<polygon points="712.3,372.5 719.3,365.6 718.8,371.8 711.8,378.7" fill="#e6e6e6" />
<polygon points="719.8,365.4 724.6,360.7 724.1,366.5 719.3,371.2" fill="#a8a8a8" />
<polygon points="705.4,386.6 724.7,367.4 724.1,374.6 704.8,393.9" fill="#8a8a8a" />
<polygon points="706.1,386.7 711.0,381.8 710.6,387.6 705.7,392.5" fill="#c2c2c2" />
<polygon points="711.7,380.8 718.6,373.8 718.1,380.0 711.1,387.0" fill="#e6e6e6" />
<polygon points="719.1,373.7 723.9,368.9 723.4,374.7 718.6,379.4" fill="#a8a8a8" />
<polygon points="704.8,394.9 724.0,375.5 723.4,382.7 704.2,402.2" fill="#8a8a8a" />
<polygon points="705.5,395.0 710.4,390.0 709.9,395.8 705.0,400.7" fill="#c2c2c2" />
<polygon points="711.0,389.0 717.9,382.1 717.4,388.2 710.5,395.2" fill="#e6e6e6" />
<polygon points="718.4,381.9 723.2,377.1 722.7,382.8 717.9,387.6" fill="#a8a8a8" />
<polygon points="704.1,403.2 723.3,383.7 722.7,390.8 703.5,410.4" fill="#8a8a8a" />
<polygon points="704.8,403.2 709.7,398.2 709.2,404.0 704.3,408.9" fill="#c2c2c2" />
<polygon points="710.3,397.2 717.2,390.2 716.7,396.3 709.8,403.4" fill="#e6e6e6" />
<polygon points="717.7,390.1 722.5,385.2 722.0,390.9 717.2,395.7" fill="#a8a8a8" />
<polygon points="703.4,411.3 722.6,391.7 722.0,398.8 702.8,418.5" fill="#8a8a8a" />
<polygon points="704.1,411.4 709.0,406.4 708.5,412.1 703.7,417.1" fill="#c2c2c2" />
<polygon points="709.6,405.4 716.5,398.3 716.0,404.4 709.1,411.5" fill="#e6e6e6" />
<polygon points="717.0,398.2 721.8,393.3 721.3,398.9 716.6,403.8" fill="#a8a8a8" />
<polygon points="707.0,327.1 733.5,302.1 727.9,365.0 701.9,391.0" fill="#a2a2a2" />
<polygon points="735.8,328.9 735.0,334.7 733.5,340.9 731.4,347.3 728.8,353.7 725.8,359.8 722.5,365.5 719.0,370.4 715.4,374.5 711.8,377.5 708.5,379.4 705.5,380.0 702.9,379.4 700.9,377.4 699.5,374.2 698.9,370.0 698.9,364.7 699.7,358.8 701.3,352.3 703.4,345.6 706.1,339.0 709.3,332.6 712.8,326.9 716.5,321.9 720.1,317.9 723.7,315.0 727.0,313.4 729.9,313.1 732.4,314.0 734.2,316.2 735.4,319.5 736.0,323.8" fill="#a4a4a4" stroke="#333" stroke-width="0.6" stroke-linejoin="round" />
<polygon points="734.2,329.9 733.4,335.3 732.0,341.0 730.1,347.0 727.7,353.0 724.9,358.7 721.8,363.9 718.5,368.5 715.1,372.3 711.8,375.1 708.7,376.9 705.9,377.4 703.6,376.8 701.7,375.0 700.4,372.0 699.8,368.0 699.9,363.2 700.6,357.6 702.0,351.6 704.0,345.4 706.6,339.2 709.5,333.3 712.7,328.0 716.1,323.3 719.6,319.6 722.9,317.0 726.0,315.5 728.7,315.1 731.0,316.0 732.7,318.0 733.8,321.1 734.3,325.1" fill="#d6d6d6" />
<polygon points="733.3,331.4 732.6,336.3 731.3,341.7 729.5,347.2 727.3,352.7 724.7,358.0 721.8,362.9 718.8,367.1 715.7,370.6 712.7,373.2 709.8,374.8 707.2,375.3 705.0,374.7 703.3,373.0 702.1,370.3 701.6,366.6 701.6,362.1 702.3,357.0 703.6,351.5 705.5,345.8 707.8,340.0 710.5,334.6 713.5,329.7 716.6,325.4 719.8,321.9 722.9,319.5 725.7,318.1 728.2,317.8 730.3,318.6 731.9,320.4 733.0,323.2 733.4,326.9" fill="#5c5c5c" />
<polygon points="732.6,332.1 731.9,336.8 730.7,341.9 729.0,347.2 726.9,352.4 724.4,357.5 721.7,362.1 718.7,366.2 715.8,369.5 712.9,372.0 710.2,373.5 707.7,374.0 705.6,373.4 704.0,371.8 702.9,369.2 702.3,365.7 702.4,361.4 703.0,356.5 704.3,351.3 706.0,345.8 708.3,340.4 710.9,335.2 713.7,330.4 716.7,326.4 719.7,323.1 722.6,320.7 725.3,319.4 727.7,319.1 729.7,319.9 731.3,321.6 732.3,324.3 732.7,327.8" fill="#080808" />
<line x1="728.9" y1="341.7" x2="725.9" y2="343.0" stroke="#cfcfcf" stroke-width="0.8" />
<line x1="724.5" y1="353.4" x2="722.7" y2="351.6" stroke="#cfcfcf" stroke-width="0.8" />
<line x1="718.3" y1="363.4" x2="718.1" y2="358.8" stroke="#cfcfcf" stroke-width="0.8" />
<line x1="711.8" y1="369.0" x2="713.5" y2="362.8" stroke="#cfcfcf" stroke-width="0.8" />
<line x1="706.9" y1="368.6" x2="709.9" y2="362.5" stroke="#cfcfcf" stroke-width="0.8" />
<line x1="704.8" y1="362.2" x2="708.4" y2="357.9" stroke="#cfcfcf" stroke-width="0.8" />
<line x1="706.2" y1="351.5" x2="709.4" y2="350.1" stroke="#cfcfcf" stroke-width="0.8" />
<line x1="710.7" y1="339.4" x2="712.7" y2="341.3" stroke="#cfcfcf" stroke-width="0.8" />
<line x1="717.2" y1="329.2" x2="717.3" y2="334.0" stroke="#cfcfcf" stroke-width="0.8" />
<line x1="723.7" y1="323.9" x2="722.0" y2="330.1" stroke="#cfcfcf" stroke-width="0.8" />
<line x1="728.5" y1="324.6" x2="725.5" y2="330.6" stroke="#cfcfcf" stroke-width="0.8" />
<line x1="730.4" y1="331.2" x2="726.9" y2="335.3" stroke="#cfcfcf" stroke-width="0.8" />
<line x1="717.7" y1="346.5" x2="726.2" y2="331.6" stroke="#e6e6e6" stroke-width="1" />
<line x1="717.7" y1="346.5" x2="713.7" y2="343.6" stroke="#e6e6e6" stroke-width="1.1" />
<polygon points="735.6,325.8 739.1,322.4 738.5,329.7 735.0,333.1" fill="#d2d2d2" stroke="#444" stroke-width="0.4" stroke-linejoin="round" />
<line x1="697.7" y1="322.6" x2="689.0" y2="436.7" stroke="#2a2a2a" stroke-width="1.6" />
<polygon points="749.3,274.8 788.3,238.7 780.9,345.0 739.0,385.0" fill="url(#g61)" />
<line x1="749.3" y1="274.8" x2="739.0" y2="385.0" stroke="#2a2a2a" stroke-width="1.6" />
<polygon points="788.3,238.7 829.7,200.3 825.0,302.0 780.9,345.0" fill="#050303" />
<polygon points="819.1,210.1 829.7,200.3 825.0,302.0 813.7,313.0" fill="url(#g62)" />
<polygon points="800.7,227.2 816.4,212.6 816.1,218.9 800.3,233.6" fill="#8a8a8a" />
<polygon points="801.3,227.3 805.2,223.7 804.9,228.7 801.0,232.4" fill="#c2c2c2" />
<polygon points="805.7,222.9 811.4,217.6 811.1,223.0 805.4,228.3" fill="#e6e6e6" />
<polygon points="811.8,217.5 815.8,213.9 815.5,218.9 811.6,222.5" fill="#a8a8a8" />
<polygon points="800.2,234.5 816.0,219.7 815.7,226.1 799.8,240.9" fill="#8a8a8a" />
<polygon points="800.8,234.6 804.8,230.9 804.5,236.0 800.5,239.7" fill="#c2c2c2" />
<polygon points="805.3,230.1 811.0,224.8 810.7,230.2 805.0,235.5" fill="#e6e6e6" />
<polygon points="811.4,224.7 815.4,221.0 815.1,226.1 811.2,229.8" fill="#a8a8a8" />
<polygon points="799.8,241.8 815.7,226.9 815.3,233.3 799.4,248.3" fill="#8a8a8a" />
<polygon points="800.4,241.9 804.4,238.2 804.1,243.3 800.0,247.1" fill="#c2c2c2" />
<polygon points="804.9,237.4 810.6,232.0 810.3,237.5 804.5,242.9" fill="#e6e6e6" />
<polygon points="811.0,231.9 815.0,228.2 814.7,233.3 810.7,237.0" fill="#a8a8a8" />
<polygon points="796.9,287.0 813.3,271.4 812.9,278.1 796.5,293.8" fill="#8a8a8a" />
<polygon points="797.5,287.1 801.7,283.2 801.3,288.6 797.2,292.6" fill="#c2c2c2" />
<polygon points="802.2,282.4 808.0,276.8 807.7,282.5 801.8,288.2" fill="#e6e6e6" />
<polygon points="808.5,276.7 812.6,272.8 812.3,278.1 808.2,282.0" fill="#a8a8a8" />
<polygon points="796.4,294.8 812.8,279.1 812.5,285.8 796.0,301.7" fill="#8a8a8a" />
<polygon points="797.1,294.9 801.2,291.0 800.9,296.4 796.7,300.4" fill="#c2c2c2" />
<polygon points="801.7,290.1 807.6,284.4 807.3,290.3 801.4,295.9" fill="#e6e6e6" />
<polygon points="808.1,284.4 812.2,280.4 811.9,285.8 807.8,289.8" fill="#a8a8a8" />
<polygon points="796.0,302.6 812.4,286.8 812.1,293.6 795.5,309.6" fill="#8a8a8a" />
<polygon points="796.6,302.8 800.7,298.8 800.4,304.3 796.2,308.3" fill="#c2c2c2" />
<polygon points="801.2,297.9 807.2,292.2 806.8,298.1 800.9,303.8" fill="#e6e6e6" />
<polygon points="807.6,292.1 811.7,288.2 811.4,293.6 807.3,297.6" fill="#a8a8a8" />
<polygon points="795.5,310.5 812.0,294.5 811.6,301.4 795.0,317.5" fill="#8a8a8a" />
<polygon points="796.1,310.7 800.2,306.7 799.9,312.2 795.7,316.3" fill="#c2c2c2" />
<polygon points="800.8,305.8 806.7,300.0 806.4,305.9 800.4,311.7" fill="#e6e6e6" />
<polygon points="807.2,299.9 811.3,296.0 811.0,301.5 806.9,305.5" fill="#a8a8a8" />
<polygon points="795.0,318.5 811.6,302.4 811.2,309.4 794.5,325.6" fill="#8a8a8a" />
<polygon points="795.6,318.7 799.8,314.6 799.4,320.2 795.2,324.3" fill="#c2c2c2" />
<polygon points="800.3,313.7 806.3,307.9 805.9,313.9 799.9,319.7" fill="#e6e6e6" />
<polygon points="806.8,307.8 810.9,303.8 810.6,309.4 806.4,313.4" fill="#a8a8a8" />
<polygon points="796.8,246.6 818.3,226.5 815.6,277.8 793.5,299.1" fill="#a2a2a2" />
<polygon points="820.1,248.9 819.6,253.6 818.6,258.7 817.1,263.9 815.1,269.1 812.9,274.0 810.3,278.5 807.6,282.4 804.8,285.5 802.0,287.7 799.4,288.9 797.1,289.1 795.1,288.2 793.5,286.3 792.5,283.4 792.0,279.8 792.0,275.4 792.6,270.6 793.7,265.5 795.2,260.2 797.2,255.1 799.5,250.3 802.0,245.9 804.7,242.2 807.5,239.2 810.1,237.1 812.6,236.0 814.9,235.8 816.8,236.7 818.4,238.5 819.5,241.2 820.0,244.7" fill="#a4a4a4" stroke="#333" stroke-width="0.6" stroke-linejoin="round" />
<polygon points="818.8,249.5 818.3,253.9 817.4,258.6 816.0,263.5 814.2,268.3 812.1,272.9 809.7,277.1 807.1,280.7 804.5,283.6 802.0,285.7 799.6,286.8 797.4,286.9 795.6,286.1 794.1,284.3 793.1,281.7 792.7,278.3 792.7,274.2 793.2,269.8 794.2,265.0 795.7,260.1 797.5,255.3 799.7,250.8 802.0,246.8 804.5,243.3 807.1,240.5 809.5,238.6 811.9,237.5 814.0,237.4 815.8,238.2 817.2,239.8 818.2,242.4 818.7,245.6" fill="#d6d6d6" />
<polygon points="818.1,250.7 817.7,254.8 816.8,259.1 815.5,263.6 813.9,268.1 811.9,272.3 809.7,276.2 807.4,279.5 805.0,282.2 802.6,284.1 800.4,285.1 798.4,285.3 796.7,284.5 795.3,282.9 794.4,280.4 794.0,277.3 794.0,273.5 794.5,269.4 795.4,265.0 796.8,260.5 798.4,256.1 800.4,251.9 802.6,248.1 804.9,244.9 807.3,242.4 809.6,240.6 811.7,239.6 813.7,239.4 815.4,240.2 816.7,241.7 817.6,244.1 818.1,247.1" fill="#5c5c5c" />
<polygon points="817.6,251.2 817.2,255.1 816.3,259.3 815.1,263.6 813.5,267.8 811.6,271.9 809.5,275.5 807.3,278.7 805.0,281.3 802.8,283.1 800.6,284.0 798.7,284.2 797.1,283.4 795.8,281.9 795.0,279.6 794.5,276.6 794.6,273.0 795.0,269.1 795.9,264.9 797.2,260.6 798.8,256.4 800.7,252.4 802.8,248.8 805.0,245.7 807.2,243.3 809.4,241.5 811.5,240.6 813.4,240.5 814.9,241.2 816.2,242.7 817.1,244.9 817.5,247.8" fill="#080808" />
<line x1="814.9" y1="258.9" x2="812.5" y2="259.8" stroke="#cfcfcf" stroke-width="0.8" />
<line x1="811.7" y1="268.5" x2="810.1" y2="266.7" stroke="#cfcfcf" stroke-width="0.8" />
<line x1="806.9" y1="276.3" x2="806.7" y2="272.4" stroke="#cfcfcf" stroke-width="0.8" />
<line x1="801.9" y1="280.4" x2="803.1" y2="275.3" stroke="#cfcfcf" stroke-width="0.8" />
<line x1="798.0" y1="279.5" x2="800.3" y2="274.7" stroke="#cfcfcf" stroke-width="0.8" />
<line x1="796.4" y1="273.9" x2="799.1" y2="270.6" stroke="#cfcfcf" stroke-width="0.8" />
<line x1="797.3" y1="265.2" x2="799.8" y2="264.3" stroke="#cfcfcf" stroke-width="0.8" />
<line x1="800.6" y1="255.7" x2="802.2" y2="257.5" stroke="#cfcfcf" stroke-width="0.8" />
<line x1="805.4" y1="248.0" x2="805.6" y2="251.9" stroke="#cfcfcf" stroke-width="0.8" />
<line x1="810.3" y1="244.1" x2="809.1" y2="249.0" stroke="#cfcfcf" stroke-width="0.8" />
<line x1="814.1" y1="244.9" x2="811.9" y2="249.6" stroke="#cfcfcf" stroke-width="0.8" />
<line x1="815.8" y1="250.3" x2="813.1" y2="253.6" stroke="#cfcfcf" stroke-width="0.8" />
<line x1="806.1" y1="262.1" x2="812.4" y2="250.4" stroke="#e6e6e6" stroke-width="1" />
<line x1="806.1" y1="262.1" x2="803.0" y2="259.3" stroke="#e6e6e6" stroke-width="1.1" />
<polygon points="819.8,246.3 822.6,243.7 822.3,249.6 819.5,252.2" fill="#d2d2d2" stroke="#444" stroke-width="0.4" stroke-linejoin="round" />
<line x1="788.3" y1="238.7" x2="780.9" y2="345.0" stroke="#2a2a2a" stroke-width="1.6" />
<polyline points="581.8,429.8 829.7,200.3 825.0,302.0 574.3,552.6 581.8,429.8" fill="none" stroke="#2a2a2a" stroke-width="2" />
<line x1="582.8" y1="431.8" x2="829.7" y2="202.5" stroke="#b8b8b8" stroke-width="1" />
<line x1="112.5" y1="188.0" x2="164.3" y2="314.1" stroke="#000" stroke-width="1.9" />
<polygon points="167.0,320.7 159.3,313.6 163.8,313.0 167.5,310.2" fill="#000" />
<line x1="251.0" y1="166.8" x2="261.9" y2="180.8" stroke="#000" stroke-width="1.9" />
<polygon points="266.3,186.4 257.0,181.6 261.2,179.8 263.9,176.2" fill="#000" />
<line x1="366.0" y1="120.6" x2="382.1" y2="147.9" stroke="#000" stroke-width="1.9" />
<polygon points="385.7,154.0 377.1,148.1 381.5,146.8 384.7,143.6" fill="#000" />
<line x1="422.0" y1="86.0" x2="426.6" y2="94.7" stroke="#000" stroke-width="1.9" />
<polygon points="430.0,101.0 421.6,94.7 426.1,93.6 429.4,90.5" fill="#000" />
<line x1="606.6" y1="58.7" x2="472.2" y2="226.7" stroke="#000" stroke-width="1.9" />
<polygon points="467.8,232.3 470.3,222.1 473.0,225.8 477.2,227.6" fill="#000" />
<line x1="744.6" y1="157.0" x2="726.8" y2="207.5" stroke="#000" stroke-width="1.9" />
<polygon points="724.4,214.2 723.4,203.8 727.2,206.3 731.7,206.7" fill="#000" />
<line x1="855.6" y1="131.9" x2="850.5" y2="155.2" stroke="#000" stroke-width="1.9" />
<polygon points="849.0,162.2 846.7,152.0 850.8,154.0 855.3,153.9" fill="#000" />
<line x1="880.5" y1="249.8" x2="719.6" y2="242.1" stroke="#000" stroke-width="1.9" />
<polygon points="712.5,241.8 722.2,237.9 720.9,242.2 721.8,246.6" fill="#000" />
<line x1="118.4" y1="417.4" x2="174.9" y2="351.4" stroke="#000" stroke-width="1.9" />
<polygon points="179.5,346.0 176.7,356.1 174.1,352.4 170.0,350.4" fill="#000" />
<line x1="299.8" y1="444.0" x2="267.0" y2="430.9" stroke="#000" stroke-width="1.9" />
<polygon points="260.4,428.3 270.9,427.7 268.2,431.4 267.6,435.9" fill="#000" />
<line x1="306.0" y1="446.5" x2="396.3" y2="298.1" stroke="#000" stroke-width="1.9" />
<polygon points="400.0,292.0 398.8,302.4 395.7,299.1 391.3,297.8" fill="#000" />
<line x1="306.0" y1="446.5" x2="520.9" y2="266.0" stroke="#000" stroke-width="1.9" />
<polygon points="526.4,261.4 522.0,270.9 520.0,266.8 516.3,264.1" fill="#000" />
<line x1="306.0" y1="446.5" x2="615.6" y2="295.1" stroke="#000" stroke-width="1.9" />
<polygon points="622.0,292.0 615.4,300.1 614.5,295.7 611.5,292.2" fill="#000" />
<line x1="444.7" y1="349.5" x2="446.3" y2="257.6" stroke="#000" stroke-width="1.9" />
<polygon points="446.4,250.5 450.6,260.1 446.3,258.9 441.8,259.9" fill="#000" />
<line x1="361.6" y1="504.9" x2="422.5" y2="489.7" stroke="#000" stroke-width="1.9" />
<polygon points="429.4,488.0 421.2,494.6 421.3,490.0 419.1,486.0" fill="#000" />
<line x1="517.6" y1="593.0" x2="484.7" y2="532.2" stroke="#000" stroke-width="1.9" />
<polygon points="481.3,525.9 489.7,532.2 485.3,533.3 482.0,536.3" fill="#000" />
<text class="b" x="52.0" y="157.5" textLength="108.0" lengthAdjust="spacingAndGlyphs">задняя стенка</text>
<text class="b" x="40.0" y="176.0" textLength="132.0" lengthAdjust="spacingAndGlyphs">ДВП или зеркало</text>
<rect x="182.3" y="144.7" width="100.1" height="19.6" fill="none" stroke="#000" stroke-width="1.7"/>
<text class="c" x="191.0" y="159.3" textLength="88.0" lengthAdjust="spacingAndGlyphs">СТЕЛЛАЖИ</text>
<rect x="276.0" y="84.6" width="71.9" height="16.8" fill="none" stroke="#000" stroke-width="1.7"/>
<text class="b" x="284.5" y="97.3" textLength="60.8" lengthAdjust="spacingAndGlyphs">зеркало</text>
<text class="b" x="252.5" y="114.0" textLength="121.5" lengthAdjust="spacingAndGlyphs">в алюминиевой</text>
<text class="b" x="296.3" y="132.8" textLength="37.2" lengthAdjust="spacingAndGlyphs">раме</text>
<rect x="350.8" y="29.2" width="108.5" height="16.8" fill="none" stroke="#000" stroke-width="1.7"/>
<text class="b" x="356.4" y="42.4" textLength="98.2" lengthAdjust="spacingAndGlyphs">фото-постер</text>
<text class="b" x="342.3" y="59.6" textLength="121.7" lengthAdjust="spacingAndGlyphs">в алюминиевой</text>
<text class="b" x="386.4" y="78.8" textLength="36.8" lengthAdjust="spacingAndGlyphs">раме</text>
<rect x="627.8" y="14.8" width="68.2" height="17.2" fill="none" stroke="#000" stroke-width="1.7"/>
<text class="b" x="635.3" y="27.9" textLength="57.3" lengthAdjust="spacingAndGlyphs">подиум</text>
<text class="b" x="623.2" y="45.5" textLength="80.9" lengthAdjust="spacingAndGlyphs">с клееным</text>
<text class="b" x="616.7" y="63.8" textLength="94.1" lengthAdjust="spacingAndGlyphs">стеклянным</text>
<text class="b" x="641.0" y="81.6" textLength="45.5" lengthAdjust="spacingAndGlyphs">кубом</text>
<rect x="726.4" y="134.3" width="73.9" height="21.2" fill="none" stroke="#000" stroke-width="1.7"/>
<text class="c" x="730.5" y="150.5" textLength="63.8" lengthAdjust="spacingAndGlyphs">СТОЙКА</text>
<rect x="827.5" y="104.0" width="58.5" height="27.0" fill="none" stroke="#000" stroke-width="1.7"/>
<text class="c" x="833.3" y="126.0" textLength="48.0" lengthAdjust="spacingAndGlyphs">ШКАФ</text>
<text class="b" x="878.0" y="225.7" textLength="93.2" lengthAdjust="spacingAndGlyphs">столешница</text>
<text class="b" x="884.5" y="243.2" textLength="80.0" lengthAdjust="spacingAndGlyphs">МДФ 32мм</text>
<text class="b" x="47.6" y="436.3" textLength="44.4" lengthAdjust="spacingAndGlyphs">полки</text>
<text class="b" x="26.3" y="454.0" textLength="91.1" lengthAdjust="spacingAndGlyphs">стеклянные</text>
<text class="b" x="19.2" y="472.0" textLength="106.3" lengthAdjust="spacingAndGlyphs">толщина 6 мм</text>
<text class="b" x="264.8" y="462.8" textLength="76.2" lengthAdjust="spacingAndGlyphs">фасады и</text>
<text class="b" x="267.0" y="479.6" textLength="69.9" lengthAdjust="spacingAndGlyphs">накладки</text>
<rect x="271.5" y="499.6" width="85.0" height="19.8" fill="none" stroke="#000" stroke-width="1.7"/>
<text class="c" x="277.0" y="515.0" textLength="78.6" lengthAdjust="spacingAndGlyphs">ВИТРИНЫ</text>
<text class="b" x="520.8" y="593.5" textLength="118.5" lengthAdjust="spacingAndGlyphs">направляющие</text>
<text class="b" x="554.0" y="611.3" textLength="51.8" lengthAdjust="spacingAndGlyphs">Hettich</text>
<text class="b" x="527.7" y="629.6" textLength="106.3" lengthAdjust="spacingAndGlyphs">с доводчиком</text>
</svg>
</body></html>
